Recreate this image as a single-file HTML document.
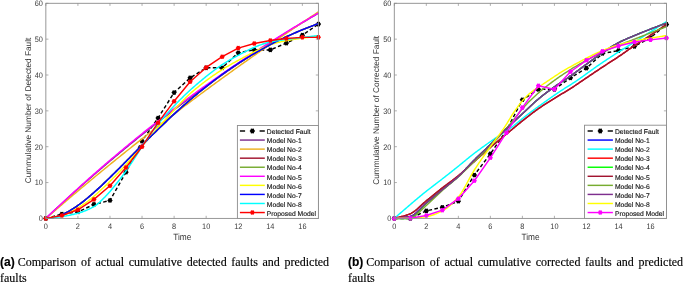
<!DOCTYPE html>
<html><head><meta charset="utf-8"><style>
html,body{margin:0;padding:0;background:#fff;}
body{width:685px;height:282px;overflow:hidden;position:relative;}
svg{position:absolute;left:0;top:0;will-change:transform;}
text{font-family:"Liberation Sans",sans-serif;text-rendering:geometricPrecision;}
.tk{font-size:7.35px;fill:#3a3a3a;}
.lb{font-size:8.3px;fill:#333;}
.yl{font-size:8.3px;fill:#333;}
.lg{font-size:6.75px;fill:#111;stroke:#111;stroke-width:0.12px;}
.cap{position:absolute;will-change:transform;font-family:"Liberation Serif",serif;font-size:12px;line-height:15px;color:#000;white-space:nowrap;-webkit-text-stroke:0.15px #000;}
.cap b{font-family:"Liberation Sans",sans-serif;font-weight:bold;}
</style></head><body>
<svg width="685" height="282" viewBox="0 0 685 282">
<path d="M45.85 218.40 L61.88 214.10 L77.91 211.95 L93.95 204.42 L109.98 200.47 L126.01 172.15 L142.04 140.96 L158.08 118.02 L174.11 92.57 L190.14 77.87 L206.17 67.83 L222.21 67.83 L238.24 52.77 L254.27 49.91 L270.30 49.91 L286.34 43.09 L302.37 35.21 L318.40 24.09" fill="none" stroke="#000" stroke-width="1.45" stroke-dasharray="3.6,2.4"/>
<polygon points="48.55,218.40 47.67,217.35 47.20,216.06 45.85,216.29 44.50,216.06 44.03,217.35 43.15,218.40 44.03,219.45 44.50,220.74 45.85,220.51 47.20,220.74 47.67,219.45" fill="#000"/>
<polygon points="64.58,214.10 63.71,213.05 63.23,211.76 61.88,211.99 60.53,211.76 60.06,213.05 59.18,214.10 60.06,215.15 60.53,216.44 61.88,216.20 63.23,216.44 63.71,215.15" fill="#000"/>
<polygon points="80.61,211.95 79.74,210.89 79.26,209.61 77.91,209.84 76.56,209.61 76.09,210.89 75.21,211.95 76.09,213.00 76.56,214.29 77.91,214.05 79.26,214.29 79.74,213.00" fill="#000"/>
<polygon points="96.65,204.42 95.77,203.37 95.30,202.08 93.95,202.31 92.60,202.08 92.12,203.37 91.25,204.42 92.12,205.47 92.60,206.76 93.95,206.52 95.30,206.76 95.77,205.47" fill="#000"/>
<polygon points="112.68,200.47 111.80,199.42 111.33,198.14 109.98,198.37 108.63,198.14 108.16,199.42 107.28,200.47 108.16,201.53 108.63,202.81 109.98,202.58 111.33,202.81 111.80,201.53" fill="#000"/>
<polygon points="128.71,172.15 127.84,171.10 127.36,169.82 126.01,170.05 124.66,169.82 124.19,171.10 123.31,172.15 124.19,173.21 124.66,174.49 126.01,174.26 127.36,174.49 127.84,173.21" fill="#000"/>
<polygon points="144.74,140.96 143.87,139.91 143.39,138.63 142.04,138.86 140.69,138.63 140.22,139.91 139.34,140.96 140.22,142.02 140.69,143.30 142.04,143.07 143.39,143.30 143.87,142.02" fill="#000"/>
<polygon points="160.78,118.02 159.90,116.97 159.43,115.68 158.08,115.91 156.73,115.68 156.25,116.97 155.38,118.02 156.25,119.07 156.73,120.36 158.08,120.13 159.43,120.36 159.90,119.07" fill="#000"/>
<polygon points="176.81,92.57 175.93,91.51 175.46,90.23 174.11,90.46 172.76,90.23 172.28,91.51 171.41,92.57 172.28,93.62 172.76,94.90 174.11,94.67 175.46,94.90 175.93,93.62" fill="#000"/>
<polygon points="192.84,77.87 191.97,76.81 191.49,75.53 190.14,75.76 188.79,75.53 188.32,76.81 187.44,77.87 188.32,78.92 188.79,80.21 190.14,79.97 191.49,80.21 191.97,78.92" fill="#000"/>
<polygon points="208.87,67.83 208.00,66.78 207.52,65.49 206.17,65.72 204.82,65.49 204.35,66.78 203.47,67.83 204.35,68.88 204.82,70.17 206.17,69.94 207.52,70.17 208.00,68.88" fill="#000"/>
<polygon points="224.91,67.83 224.03,66.78 223.56,65.49 222.21,65.72 220.86,65.49 220.38,66.78 219.51,67.83 220.38,68.88 220.86,70.17 222.21,69.94 223.56,70.17 224.03,68.88" fill="#000"/>
<polygon points="240.94,52.77 240.06,51.72 239.59,50.43 238.24,50.67 236.89,50.43 236.41,51.72 235.54,52.77 236.41,53.83 236.89,55.11 238.24,54.88 239.59,55.11 240.06,53.83" fill="#000"/>
<polygon points="256.97,49.91 256.09,48.85 255.62,47.57 254.27,47.80 252.92,47.57 252.45,48.85 251.57,49.91 252.45,50.96 252.92,52.24 254.27,52.01 255.62,52.24 256.09,50.96" fill="#000"/>
<polygon points="273.00,49.91 272.13,48.85 271.65,47.57 270.30,47.80 268.95,47.57 268.48,48.85 267.60,49.91 268.48,50.96 268.95,52.24 270.30,52.01 271.65,52.24 272.13,50.96" fill="#000"/>
<polygon points="289.04,43.09 288.16,42.04 287.69,40.76 286.34,40.99 284.99,40.76 284.51,42.04 283.64,43.09 284.51,44.15 284.99,45.43 286.34,45.20 287.69,45.43 288.16,44.15" fill="#000"/>
<polygon points="305.07,35.21 304.19,34.15 303.72,32.87 302.37,33.10 301.02,32.87 300.54,34.15 299.67,35.21 300.54,36.26 301.02,37.54 302.37,37.31 303.72,37.54 304.19,36.26" fill="#000"/>
<polygon points="321.10,24.09 320.22,23.04 319.75,21.75 318.40,21.99 317.05,21.75 316.58,23.04 315.70,24.09 316.58,25.15 317.05,26.43 318.40,26.20 319.75,26.43 320.22,25.15" fill="#000"/>
<path d="M45.85 218.40 L47.45 216.89 L49.06 215.38 L50.66 213.87 L52.26 212.37 L53.87 210.88 L55.47 209.39 L57.07 207.90 L58.68 206.41 L60.28 204.94 L61.88 203.46 L63.49 201.99 L65.09 200.52 L66.69 199.06 L68.30 197.60 L69.90 196.14 L71.50 194.69 L73.10 193.25 L74.71 191.80 L76.31 190.36 L77.91 188.93 L79.52 187.50 L81.12 186.07 L82.72 184.65 L84.33 183.23 L85.93 181.81 L87.53 180.40 L89.14 179.00 L90.74 177.59 L92.34 176.19 L93.95 174.80 L95.55 173.41 L97.15 172.02 L98.76 170.63 L100.36 169.25 L101.96 167.88 L103.57 166.50 L105.17 165.14 L106.77 163.77 L108.38 162.41 L109.98 161.05 L111.58 159.70 L113.19 158.35 L114.79 157.00 L116.39 155.66 L118.00 154.32 L119.60 152.99 L121.20 151.66 L122.81 150.33 L124.41 149.00 L126.01 147.68 L127.61 146.37 L129.22 145.06 L130.82 143.75 L132.42 142.44 L134.03 141.14 L135.63 139.84 L137.23 138.55 L138.84 137.25 L140.44 135.97 L142.04 134.68 L143.65 133.40 L145.25 132.13 L146.85 130.85 L148.46 129.58 L150.06 128.32 L151.66 127.05 L153.27 125.80 L154.87 124.54 L156.47 123.29 L158.08 122.04 L159.68 120.79 L161.28 119.55 L162.89 118.31 L164.49 117.08 L166.09 115.85 L167.70 114.62 L169.30 113.39 L170.90 112.17 L172.51 110.95 L174.11 109.74 L175.71 108.53 L177.32 107.32 L178.92 106.12 L180.52 104.92 L182.12 103.72 L183.73 102.52 L185.33 101.33 L186.93 100.14 L188.54 98.96 L190.14 97.78 L191.74 96.60 L193.35 95.43 L194.95 94.26 L196.55 93.09 L198.16 91.92 L199.76 90.76 L201.36 89.60 L202.97 88.45 L204.57 87.29 L206.17 86.15 L207.78 85.00 L209.38 83.86 L210.98 82.72 L212.59 81.58 L214.19 80.45 L215.79 79.32 L217.40 78.19 L219.00 77.07 L220.60 75.95 L222.21 74.83 L223.81 73.72 L225.41 72.61 L227.02 71.50 L228.62 70.39 L230.22 69.29 L231.83 68.19 L233.43 67.10 L235.03 66.00 L236.63 64.91 L238.24 63.83 L239.84 62.74 L241.44 61.66 L243.05 60.59 L244.65 59.51 L246.25 58.44 L247.86 57.37 L249.46 56.31 L251.06 55.24 L252.67 54.18 L254.27 53.13 L255.87 52.07 L257.48 51.02 L259.08 49.97 L260.68 48.93 L262.29 47.89 L263.89 46.85 L265.49 45.81 L267.10 44.78 L268.70 43.75 L270.30 42.72 L271.91 41.69 L273.51 40.67 L275.11 39.65 L276.72 38.63 L278.32 37.62 L279.92 36.61 L281.53 35.60 L283.13 34.60 L284.73 33.59 L286.34 32.59 L287.94 31.60 L289.54 30.60 L291.14 29.61 L292.75 28.62 L294.35 27.64 L295.95 26.65 L297.56 25.67 L299.16 24.70 L300.76 23.72 L302.37 22.75 L303.97 21.78 L305.57 20.81 L307.18 19.85 L308.78 18.89 L310.38 17.93 L311.99 16.97 L313.59 16.02 L315.19 15.07 L316.80 14.12 L318.40 13.17" fill="none" stroke="#7E2F8E" stroke-width="1.45" stroke-linejoin="round"/>
<path d="M45.85 218.40 L47.45 217.01 L49.06 215.62 L50.66 214.23 L52.26 212.85 L53.87 211.46 L55.47 210.08 L57.07 208.70 L58.68 207.33 L60.28 205.96 L61.88 204.58 L63.49 203.21 L65.09 201.85 L66.69 200.48 L68.30 199.12 L69.90 197.76 L71.50 196.40 L73.10 195.05 L74.71 193.69 L76.31 192.34 L77.91 190.99 L79.52 189.65 L81.12 188.30 L82.72 186.96 L84.33 185.62 L85.93 184.28 L87.53 182.95 L89.14 181.61 L90.74 180.28 L92.34 178.95 L93.95 177.63 L95.55 176.30 L97.15 174.98 L98.76 173.66 L100.36 172.34 L101.96 171.02 L103.57 169.71 L105.17 168.40 L106.77 167.09 L108.38 165.78 L109.98 164.48 L111.58 163.17 L113.19 161.87 L114.79 160.57 L116.39 159.28 L118.00 157.98 L119.60 156.69 L121.20 155.40 L122.81 154.11 L124.41 152.83 L126.01 151.54 L127.61 150.26 L129.22 148.98 L130.82 147.70 L132.42 146.43 L134.03 145.16 L135.63 143.89 L137.23 142.62 L138.84 141.35 L140.44 140.08 L142.04 138.82 L143.65 137.56 L145.25 136.30 L146.85 135.05 L148.46 133.79 L150.06 132.54 L151.66 131.29 L153.27 130.04 L154.87 128.79 L156.47 127.55 L158.08 126.31 L159.68 125.07 L161.28 123.83 L162.89 122.59 L164.49 121.36 L166.09 120.13 L167.70 118.90 L169.30 117.67 L170.90 116.44 L172.51 115.22 L174.11 114.00 L175.71 112.78 L177.32 111.56 L178.92 110.35 L180.52 109.13 L182.12 107.92 L183.73 106.71 L185.33 105.50 L186.93 104.30 L188.54 103.09 L190.14 101.89 L191.74 100.69 L193.35 99.49 L194.95 98.30 L196.55 97.10 L198.16 95.91 L199.76 94.72 L201.36 93.53 L202.97 92.35 L204.57 91.16 L206.17 89.98 L207.78 88.80 L209.38 87.62 L210.98 86.45 L212.59 85.27 L214.19 84.10 L215.79 82.93 L217.40 81.76 L219.00 80.59 L220.60 79.43 L222.21 78.27 L223.81 77.11 L225.41 75.95 L227.02 74.79 L228.62 73.64 L230.22 72.48 L231.83 71.33 L233.43 70.18 L235.03 69.03 L236.63 67.89 L238.24 66.74 L239.84 65.60 L241.44 64.46 L243.05 63.32 L244.65 62.19 L246.25 61.05 L247.86 59.92 L249.46 58.79 L251.06 57.66 L252.67 56.53 L254.27 55.41 L255.87 54.29 L257.48 53.17 L259.08 52.05 L260.68 50.93 L262.29 49.81 L263.89 48.70 L265.49 47.59 L267.10 46.48 L268.70 45.37 L270.30 44.26 L271.91 43.16 L273.51 42.05 L275.11 40.95 L276.72 39.85 L278.32 38.76 L279.92 37.66 L281.53 36.57 L283.13 35.47 L284.73 34.38 L286.34 33.29 L287.94 32.21 L289.54 31.12 L291.14 30.04 L292.75 28.96 L294.35 27.88 L295.95 26.80 L297.56 25.73 L299.16 24.65 L300.76 23.58 L302.37 22.51 L303.97 21.44 L305.57 20.37 L307.18 19.31 L308.78 18.24 L310.38 17.18 L311.99 16.12 L313.59 15.06 L315.19 14.01 L316.80 12.95 L318.40 11.90" fill="none" stroke="#EDB120" stroke-width="1.45" stroke-linejoin="round"/>
<path d="M45.85 218.40 L47.45 218.36 L49.06 218.24 L50.66 218.04 L52.26 217.77 L53.87 217.42 L55.47 217.01 L57.07 216.53 L58.68 215.99 L60.28 215.39 L61.88 214.73 L63.49 214.01 L65.09 213.24 L66.69 212.42 L68.30 211.55 L69.90 210.63 L71.50 209.67 L73.10 208.67 L74.71 207.62 L76.31 206.53 L77.91 205.41 L79.52 204.25 L81.12 203.06 L82.72 201.83 L84.33 200.58 L85.93 199.29 L87.53 197.98 L89.14 196.64 L90.74 195.28 L92.34 193.89 L93.95 192.48 L95.55 191.06 L97.15 189.61 L98.76 188.14 L100.36 186.66 L101.96 185.16 L103.57 183.65 L105.17 182.12 L106.77 180.58 L108.38 179.03 L109.98 177.46 L111.58 175.89 L113.19 174.31 L114.79 172.72 L116.39 171.13 L118.00 169.52 L119.60 167.92 L121.20 166.30 L122.81 164.69 L124.41 163.07 L126.01 161.44 L127.61 159.82 L129.22 158.19 L130.82 156.57 L132.42 154.94 L134.03 153.32 L135.63 151.69 L137.23 150.07 L138.84 148.45 L140.44 146.83 L142.04 145.21 L143.65 143.60 L145.25 141.99 L146.85 140.39 L148.46 138.79 L150.06 137.19 L151.66 135.60 L153.27 134.02 L154.87 132.44 L156.47 130.87 L158.08 129.31 L159.68 127.75 L161.28 126.20 L162.89 124.66 L164.49 123.12 L166.09 121.60 L167.70 120.08 L169.30 118.57 L170.90 117.07 L172.51 115.58 L174.11 114.10 L175.71 112.62 L177.32 111.16 L178.92 109.71 L180.52 108.26 L182.12 106.83 L183.73 105.40 L185.33 103.99 L186.93 102.59 L188.54 101.19 L190.14 99.81 L191.74 98.44 L193.35 97.07 L194.95 95.72 L196.55 94.38 L198.16 93.05 L199.76 91.74 L201.36 90.43 L202.97 89.13 L204.57 87.85 L206.17 86.57 L207.78 85.31 L209.38 84.06 L210.98 82.82 L212.59 81.59 L214.19 80.37 L215.79 79.17 L217.40 77.97 L219.00 76.79 L220.60 75.61 L222.21 74.45 L223.81 73.30 L225.41 72.16 L227.02 71.03 L228.62 69.92 L230.22 68.81 L231.83 67.72 L233.43 66.63 L235.03 65.56 L236.63 64.50 L238.24 63.45 L239.84 62.41 L241.44 61.38 L243.05 60.36 L244.65 59.36 L246.25 58.36 L247.86 57.37 L249.46 56.40 L251.06 55.43 L252.67 54.48 L254.27 53.54 L255.87 52.60 L257.48 51.68 L259.08 50.77 L260.68 49.87 L262.29 48.98 L263.89 48.09 L265.49 47.22 L267.10 46.36 L268.70 45.51 L270.30 44.67 L271.91 43.84 L273.51 43.01 L275.11 42.20 L276.72 41.40 L278.32 40.60 L279.92 39.82 L281.53 39.04 L283.13 38.28 L284.73 37.52 L286.34 36.77 L287.94 36.03 L289.54 35.30 L291.14 34.58 L292.75 33.87 L294.35 33.17 L295.95 32.47 L297.56 31.79 L299.16 31.11 L300.76 30.44 L302.37 29.78 L303.97 29.13 L305.57 28.48 L307.18 27.84 L308.78 27.22 L310.38 26.60 L311.99 25.98 L313.59 25.38 L315.19 24.78 L316.80 24.19 L318.40 23.61" fill="none" stroke="#A2142F" stroke-width="1.45" stroke-linejoin="round"/>
<path d="M45.85 218.40 L47.45 218.36 L49.06 218.24 L50.66 218.04 L52.26 217.77 L53.87 217.42 L55.47 217.01 L57.07 216.53 L58.68 215.99 L60.28 215.39 L61.88 214.73 L63.49 214.01 L65.09 213.24 L66.69 212.42 L68.30 211.55 L69.90 210.63 L71.50 209.67 L73.10 208.67 L74.71 207.62 L76.31 206.53 L77.91 205.41 L79.52 204.25 L81.12 203.06 L82.72 201.83 L84.33 200.58 L85.93 199.29 L87.53 197.98 L89.14 196.64 L90.74 195.28 L92.34 193.89 L93.95 192.48 L95.55 191.06 L97.15 189.61 L98.76 188.14 L100.36 186.66 L101.96 185.16 L103.57 183.65 L105.17 182.12 L106.77 180.58 L108.38 179.03 L109.98 177.46 L111.58 175.89 L113.19 174.31 L114.79 172.72 L116.39 171.13 L118.00 169.52 L119.60 167.92 L121.20 166.30 L122.81 164.69 L124.41 163.07 L126.01 161.44 L127.61 159.82 L129.22 158.19 L130.82 156.57 L132.42 154.94 L134.03 153.32 L135.63 151.69 L137.23 150.07 L138.84 148.45 L140.44 146.83 L142.04 145.21 L143.65 143.60 L145.25 141.99 L146.85 140.39 L148.46 138.79 L150.06 137.19 L151.66 135.60 L153.27 134.02 L154.87 132.44 L156.47 130.87 L158.08 129.31 L159.68 127.75 L161.28 126.20 L162.89 124.66 L164.49 123.12 L166.09 121.60 L167.70 120.08 L169.30 118.57 L170.90 117.07 L172.51 115.58 L174.11 114.10 L175.71 112.62 L177.32 111.16 L178.92 109.71 L180.52 108.26 L182.12 106.83 L183.73 105.40 L185.33 103.99 L186.93 102.59 L188.54 101.19 L190.14 99.81 L191.74 98.44 L193.35 97.07 L194.95 95.72 L196.55 94.38 L198.16 93.05 L199.76 91.74 L201.36 90.43 L202.97 89.13 L204.57 87.85 L206.17 86.57 L207.78 85.31 L209.38 84.06 L210.98 82.82 L212.59 81.59 L214.19 80.37 L215.79 79.17 L217.40 77.97 L219.00 76.79 L220.60 75.61 L222.21 74.45 L223.81 73.30 L225.41 72.16 L227.02 71.03 L228.62 69.92 L230.22 68.81 L231.83 67.72 L233.43 66.63 L235.03 65.56 L236.63 64.50 L238.24 63.45 L239.84 62.41 L241.44 61.38 L243.05 60.36 L244.65 59.36 L246.25 58.36 L247.86 57.37 L249.46 56.40 L251.06 55.43 L252.67 54.48 L254.27 53.54 L255.87 52.60 L257.48 51.68 L259.08 50.77 L260.68 49.87 L262.29 48.98 L263.89 48.09 L265.49 47.22 L267.10 46.36 L268.70 45.51 L270.30 44.67 L271.91 43.84 L273.51 43.01 L275.11 42.20 L276.72 41.40 L278.32 40.60 L279.92 39.82 L281.53 39.04 L283.13 38.28 L284.73 37.52 L286.34 36.77 L287.94 36.03 L289.54 35.30 L291.14 34.58 L292.75 33.87 L294.35 33.17 L295.95 32.47 L297.56 31.79 L299.16 31.11 L300.76 30.44 L302.37 29.78 L303.97 29.13 L305.57 28.48 L307.18 27.84 L308.78 27.22 L310.38 26.60 L311.99 25.98 L313.59 25.38 L315.19 24.78 L316.80 24.19 L318.40 23.61" fill="none" stroke="#77AC30" stroke-width="1.45" stroke-linejoin="round"/>
<path d="M45.85 218.40 L47.45 216.86 L49.06 215.32 L50.66 213.79 L52.26 212.27 L53.87 210.75 L55.47 209.23 L57.07 207.72 L58.68 206.21 L60.28 204.71 L61.88 203.21 L63.49 201.71 L65.09 200.22 L66.69 198.74 L68.30 197.26 L69.90 195.78 L71.50 194.31 L73.10 192.84 L74.71 191.38 L76.31 189.92 L77.91 188.46 L79.52 187.01 L81.12 185.57 L82.72 184.12 L84.33 182.69 L85.93 181.25 L87.53 179.83 L89.14 178.40 L90.74 176.98 L92.34 175.56 L93.95 174.15 L95.55 172.75 L97.15 171.34 L98.76 169.94 L100.36 168.55 L101.96 167.16 L103.57 165.77 L105.17 164.39 L106.77 163.01 L108.38 161.64 L109.98 160.27 L111.58 158.90 L113.19 157.54 L114.79 156.18 L116.39 154.83 L118.00 153.48 L119.60 152.13 L121.20 150.79 L122.81 149.45 L124.41 148.12 L126.01 146.79 L127.61 145.47 L129.22 144.14 L130.82 142.83 L132.42 141.51 L134.03 140.20 L135.63 138.90 L137.23 137.60 L138.84 136.30 L140.44 135.00 L142.04 133.71 L143.65 132.43 L145.25 131.15 L146.85 129.87 L148.46 128.59 L150.06 127.32 L151.66 126.05 L153.27 124.79 L154.87 123.53 L156.47 122.28 L158.08 121.02 L159.68 119.78 L161.28 118.53 L162.89 117.29 L164.49 116.05 L166.09 114.82 L167.70 113.59 L169.30 112.36 L170.90 111.14 L172.51 109.92 L174.11 108.71 L175.71 107.50 L177.32 106.29 L178.92 105.08 L180.52 103.88 L182.12 102.69 L183.73 101.49 L185.33 100.30 L186.93 99.12 L188.54 97.94 L190.14 96.76 L191.74 95.58 L193.35 94.41 L194.95 93.24 L196.55 92.07 L198.16 90.91 L199.76 89.76 L201.36 88.60 L202.97 87.45 L204.57 86.30 L206.17 85.16 L207.78 84.02 L209.38 82.88 L210.98 81.75 L212.59 80.61 L214.19 79.49 L215.79 78.36 L217.40 77.24 L219.00 76.13 L220.60 75.01 L222.21 73.90 L223.81 72.79 L225.41 71.69 L227.02 70.59 L228.62 69.49 L230.22 68.40 L231.83 67.31 L233.43 66.22 L235.03 65.14 L236.63 64.06 L238.24 62.98 L239.84 61.90 L241.44 60.83 L243.05 59.77 L244.65 58.70 L246.25 57.64 L247.86 56.58 L249.46 55.53 L251.06 54.47 L252.67 53.42 L254.27 52.38 L255.87 51.34 L257.48 50.30 L259.08 49.26 L260.68 48.23 L262.29 47.20 L263.89 46.17 L265.49 45.15 L267.10 44.12 L268.70 43.11 L270.30 42.09 L271.91 41.08 L273.51 40.07 L275.11 39.07 L276.72 38.06 L278.32 37.06 L279.92 36.07 L281.53 35.07 L283.13 34.08 L284.73 33.09 L286.34 32.11 L287.94 31.13 L289.54 30.15 L291.14 29.17 L292.75 28.20 L294.35 27.23 L295.95 26.26 L297.56 25.30 L299.16 24.34 L300.76 23.38 L302.37 22.42 L303.97 21.47 L305.57 20.52 L307.18 19.57 L308.78 18.63 L310.38 17.68 L311.99 16.75 L313.59 15.81 L315.19 14.88 L316.80 13.95 L318.40 13.02" fill="none" stroke="#FF00FF" stroke-width="1.45" stroke-linejoin="round"/>
<path d="M45.85 218.40 L46.65 218.26 L47.45 218.12 L48.25 217.99 L49.06 217.87 L49.86 217.74 L50.66 217.62 L51.46 217.50 L52.26 217.38 L53.06 217.25 L53.87 217.13 L54.67 217.00 L55.47 216.87 L56.27 216.73 L57.07 216.58 L57.87 216.43 L58.68 216.27 L59.48 216.10 L60.28 215.92 L61.08 215.73 L61.88 215.53 L62.69 215.31 L63.50 215.07 L64.30 214.80 L65.11 214.51 L65.92 214.20 L66.73 213.88 L67.53 213.53 L68.34 213.17 L69.15 212.79 L69.96 212.39 L70.76 211.98 L71.57 211.56 L72.38 211.12 L73.19 210.67 L73.99 210.22 L74.80 209.75 L75.61 209.27 L76.41 208.78 L77.22 208.29 L78.03 207.79 L78.84 207.29 L79.64 206.78 L80.45 206.27 L81.26 205.76 L82.07 205.24 L82.87 204.73 L83.68 204.21 L84.49 203.70 L85.42 203.09 L86.35 202.44 L87.28 201.75 L88.21 201.03 L89.14 200.30 L89.94 199.65 L90.74 199.00 L91.54 198.33 L92.34 197.66 L93.15 196.99 L93.95 196.30 L94.75 195.61 L95.55 194.91 L96.35 194.20 L97.15 193.49 L97.96 192.77 L98.76 192.04 L99.56 191.31 L100.36 190.57 L101.16 189.83 L101.96 189.08 L102.76 188.32 L103.57 187.56 L104.37 186.80 L105.17 186.03 L105.97 185.25 L106.77 184.47 L107.57 183.69 L108.38 182.90 L109.18 182.11 L109.98 181.31 L110.78 180.51 L111.58 179.71 L112.38 178.91 L113.19 178.10 L113.99 177.29 L114.79 176.47 L115.59 175.66 L116.39 174.84 L117.19 174.02 L118.00 173.20 L118.80 172.37 L119.60 171.55 L120.40 170.72 L121.22 169.87 L122.04 169.01 L122.86 168.14 L123.68 167.26 L124.50 166.38 L125.31 165.49 L126.13 164.59 L126.95 163.68 L127.77 162.76 L128.59 161.84 L129.41 160.91 L130.23 159.98 L131.05 159.04 L131.87 158.10 L132.69 157.15 L133.51 156.20 L134.32 155.25 L135.14 154.29 L135.96 153.33 L136.78 152.37 L137.60 151.40 L138.42 150.43 L139.24 149.47 L140.06 148.50 L140.88 147.53 L141.70 146.56 L142.51 145.58 L143.33 144.62 L144.15 143.65 L144.97 142.68 L145.79 141.71 L146.61 140.75 L147.43 139.79 L148.25 138.83 L149.07 137.88 L149.89 136.93 L150.71 135.98 L151.52 135.04 L152.34 134.10 L153.16 133.16 L153.98 132.24 L154.80 131.32 L155.62 130.40 L156.44 129.49 L157.26 128.59 L158.08 127.70 L158.88 126.82 L159.69 125.94 L160.49 125.06 L161.30 124.17 L162.10 123.29 L162.91 122.40 L163.71 121.51 L164.52 120.61 L165.32 119.72 L166.13 118.82 L166.93 117.93 L167.74 117.03 L168.54 116.14 L169.35 115.25 L170.15 114.36 L170.96 113.47 L171.76 112.58 L172.57 111.69 L173.37 110.81 L174.18 109.93 L174.98 109.05 L175.79 108.18 L176.59 107.31 L177.40 106.45 L178.20 105.59 L179.01 104.73 L179.81 103.89 L180.62 103.04 L181.42 102.21 L182.23 101.38 L183.03 100.56 L183.84 99.74 L184.64 98.94 L185.45 98.14 L186.26 97.35 L187.06 96.57 L187.87 95.80 L188.67 95.04 L189.48 94.29 L190.28 93.55 L191.09 92.82 L191.89 92.10 L192.70 91.39 L193.50 90.69 L194.31 90.01 L195.11 89.34 L195.93 88.67 L196.74 88.01 L197.56 87.35 L198.37 86.69 L199.18 86.04 L200.00 85.39 L200.81 84.75 L201.63 84.12 L202.44 83.49 L203.26 82.86 L204.07 82.24 L204.89 81.62 L205.70 81.01 L206.52 80.40 L207.33 79.80 L208.15 79.20 L208.96 78.61 L209.78 78.02 L210.59 77.43 L211.41 76.86 L212.22 76.28 L213.03 75.71 L213.85 75.15 L214.66 74.59 L215.48 74.03 L216.29 73.48 L217.11 72.93 L217.92 72.39 L218.74 71.86 L219.55 71.32 L220.37 70.80 L221.18 70.27 L222.00 69.75 L222.81 69.24 L223.63 68.73 L224.44 68.23 L225.26 67.73 L226.07 67.23 L226.88 66.74 L227.70 66.26 L228.51 65.78 L229.33 65.30 L230.14 64.83 L230.96 64.36 L231.77 63.90 L232.59 63.44 L233.40 62.99 L234.22 62.54 L235.03 62.09 L235.85 61.65 L236.66 61.21 L237.48 60.76 L238.30 60.32 L239.11 59.87 L239.93 59.43 L240.75 58.99 L241.56 58.54 L242.38 58.10 L243.19 57.66 L244.01 57.22 L244.83 56.78 L245.64 56.34 L246.46 55.91 L247.27 55.48 L248.09 55.05 L248.91 54.62 L249.72 54.19 L250.54 53.77 L251.36 53.35 L252.17 52.93 L252.99 52.52 L253.80 52.11 L254.62 51.70 L255.44 51.30 L256.25 50.90 L257.07 50.50 L257.89 50.11 L258.70 49.73 L259.52 49.35 L260.33 48.97 L261.15 48.60 L261.97 48.24 L262.78 47.88 L263.60 47.53 L264.41 47.18 L265.23 46.84 L266.05 46.51 L266.86 46.18 L267.68 45.86 L268.50 45.55 L269.31 45.24 L270.13 44.95 L270.94 44.65 L271.76 44.37 L272.58 44.10 L273.39 43.83 L274.21 43.57 L275.03 43.32 L275.84 43.08 L276.66 42.85 L277.47 42.63 L278.29 42.41 L279.11 42.21 L279.92 42.02 L280.72 41.84 L281.53 41.66 L282.33 41.48 L283.13 41.31 L283.93 41.15 L284.73 40.99 L285.53 40.83 L286.34 40.68 L287.14 40.53 L287.94 40.38 L288.74 40.24 L289.54 40.10 L290.34 39.96 L291.14 39.83 L291.95 39.70 L292.75 39.57 L293.55 39.45 L294.35 39.32 L295.15 39.20 L295.95 39.08 L296.76 38.96 L297.56 38.85 L298.36 38.73 L299.16 38.62 L299.96 38.51 L300.76 38.40 L301.57 38.29 L302.37 38.18 L303.17 38.07 L303.97 37.96 L304.77 37.86 L305.57 37.75 L306.38 37.64 L307.18 37.53 L307.98 37.42 L308.78 37.32 L309.58 37.21 L310.38 37.10 L311.19 36.99 L311.99 36.87 L312.79 36.76 L313.59 36.65 L314.39 36.53 L315.19 36.41 L316.00 36.29 L316.80 36.17 L317.60 36.05 L318.40 35.92" fill="none" stroke="#FFFF00" stroke-width="1.45" stroke-linejoin="round"/>
<path d="M45.85 218.40 L47.45 218.36 L49.06 218.24 L50.66 218.04 L52.26 217.77 L53.87 217.42 L55.47 217.01 L57.07 216.53 L58.68 215.99 L60.28 215.39 L61.88 214.73 L63.49 214.01 L65.09 213.24 L66.69 212.42 L68.30 211.55 L69.90 210.63 L71.50 209.67 L73.10 208.67 L74.71 207.62 L76.31 206.53 L77.91 205.41 L79.52 204.25 L81.12 203.06 L82.72 201.83 L84.33 200.58 L85.93 199.29 L87.53 197.98 L89.14 196.64 L90.74 195.28 L92.34 193.89 L93.95 192.48 L95.55 191.06 L97.15 189.61 L98.76 188.14 L100.36 186.66 L101.96 185.16 L103.57 183.65 L105.17 182.12 L106.77 180.58 L108.38 179.03 L109.98 177.46 L111.58 175.89 L113.19 174.31 L114.79 172.72 L116.39 171.13 L118.00 169.52 L119.60 167.92 L121.20 166.30 L122.81 164.69 L124.41 163.07 L126.01 161.44 L127.61 159.82 L129.22 158.19 L130.82 156.57 L132.42 154.94 L134.03 153.32 L135.63 151.69 L137.23 150.07 L138.84 148.45 L140.44 146.83 L142.04 145.21 L143.65 143.60 L145.25 141.99 L146.85 140.39 L148.46 138.79 L150.06 137.19 L151.66 135.60 L153.27 134.02 L154.87 132.44 L156.47 130.87 L158.08 129.31 L159.68 127.75 L161.28 126.20 L162.89 124.66 L164.49 123.12 L166.09 121.60 L167.70 120.08 L169.30 118.57 L170.90 117.07 L172.51 115.58 L174.11 114.10 L175.71 112.62 L177.32 111.16 L178.92 109.71 L180.52 108.26 L182.12 106.83 L183.73 105.40 L185.33 103.99 L186.93 102.59 L188.54 101.19 L190.14 99.81 L191.74 98.44 L193.35 97.07 L194.95 95.72 L196.55 94.38 L198.16 93.05 L199.76 91.74 L201.36 90.43 L202.97 89.13 L204.57 87.85 L206.17 86.57 L207.78 85.31 L209.38 84.06 L210.98 82.82 L212.59 81.59 L214.19 80.37 L215.79 79.17 L217.40 77.97 L219.00 76.79 L220.60 75.61 L222.21 74.45 L223.81 73.30 L225.41 72.16 L227.02 71.03 L228.62 69.92 L230.22 68.81 L231.83 67.72 L233.43 66.63 L235.03 65.56 L236.63 64.50 L238.24 63.45 L239.84 62.41 L241.44 61.38 L243.05 60.36 L244.65 59.36 L246.25 58.36 L247.86 57.37 L249.46 56.40 L251.06 55.43 L252.67 54.48 L254.27 53.54 L255.87 52.60 L257.48 51.68 L259.08 50.77 L260.68 49.87 L262.29 48.98 L263.89 48.09 L265.49 47.22 L267.10 46.36 L268.70 45.51 L270.30 44.67 L271.91 43.84 L273.51 43.01 L275.11 42.20 L276.72 41.40 L278.32 40.60 L279.92 39.82 L281.53 39.04 L283.13 38.28 L284.73 37.52 L286.34 36.77 L287.94 36.03 L289.54 35.30 L291.14 34.58 L292.75 33.87 L294.35 33.17 L295.95 32.47 L297.56 31.79 L299.16 31.11 L300.76 30.44 L302.37 29.78 L303.97 29.13 L305.57 28.48 L307.18 27.84 L308.78 27.22 L310.38 26.60 L311.99 25.98 L313.59 25.38 L315.19 24.78 L316.80 24.19 L318.40 23.61" fill="none" stroke="#0000FF" stroke-width="1.45" stroke-linejoin="round"/>
<path d="M45.85 218.40 L46.65 218.31 L47.45 218.23 L48.25 218.14 L49.06 218.06 L49.86 217.98 L50.66 217.90 L51.46 217.82 L52.26 217.74 L53.06 217.66 L53.87 217.57 L54.67 217.49 L55.47 217.40 L56.27 217.32 L57.07 217.23 L57.87 217.13 L58.68 217.04 L59.48 216.94 L60.28 216.83 L61.08 216.72 L61.88 216.61 L62.68 216.49 L63.49 216.36 L64.29 216.23 L65.09 216.10 L65.89 215.96 L66.69 215.81 L67.49 215.66 L68.30 215.50 L69.10 215.34 L69.90 215.17 L70.70 215.00 L71.50 214.82 L72.30 214.64 L73.10 214.45 L73.91 214.26 L74.71 214.06 L75.51 213.85 L76.31 213.64 L77.11 213.42 L77.91 213.20 L78.72 212.97 L79.52 212.73 L80.32 212.49 L81.12 212.23 L81.92 211.96 L82.72 211.69 L83.53 211.40 L84.33 211.10 L85.13 210.79 L85.93 210.47 L86.73 210.14 L87.53 209.80 L88.34 209.44 L89.14 209.07 L89.94 208.69 L90.74 208.29 L91.54 207.88 L92.34 207.46 L93.15 207.02 L93.95 206.57 L94.80 206.05 L95.65 205.47 L96.50 204.85 L97.35 204.17 L98.20 203.46 L99.05 202.71 L99.90 201.92 L100.75 201.12 L101.61 200.29 L102.46 199.45 L103.31 198.60 L104.16 197.74 L105.01 196.89 L105.82 196.07 L106.63 195.22 L107.44 194.36 L108.25 193.47 L109.06 192.57 L109.87 191.65 L110.68 190.71 L111.49 189.76 L112.30 188.79 L113.11 187.81 L113.92 186.82 L114.73 185.81 L115.54 184.80 L116.35 183.78 L117.16 182.76 L117.97 181.72 L118.78 180.69 L119.59 179.65 L120.40 178.61 L121.22 177.54 L122.04 176.46 L122.86 175.36 L123.68 174.24 L124.50 173.11 L125.31 171.96 L126.13 170.79 L126.95 169.62 L127.77 168.43 L128.59 167.23 L129.41 166.01 L130.23 164.79 L131.05 163.56 L131.87 162.33 L132.69 161.08 L133.51 159.83 L134.32 158.57 L135.14 157.31 L135.96 156.05 L136.78 154.78 L137.60 153.52 L138.42 152.25 L139.24 150.98 L140.06 149.72 L140.88 148.45 L141.70 147.19 L142.51 145.94 L143.33 144.69 L144.15 143.44 L144.97 142.21 L145.79 140.98 L146.61 139.76 L147.43 138.54 L148.25 137.34 L149.07 136.16 L149.89 134.98 L150.71 133.82 L151.52 132.67 L152.34 131.54 L153.16 130.42 L153.98 129.32 L154.80 128.24 L155.62 127.18 L156.44 126.14 L157.26 125.11 L158.08 124.11 L158.88 123.15 L159.69 122.18 L160.49 121.23 L161.30 120.28 L162.10 119.33 L162.91 118.39 L163.71 117.46 L164.52 116.53 L165.32 115.61 L166.13 114.70 L166.93 113.79 L167.74 112.88 L168.54 111.99 L169.35 111.10 L170.15 110.21 L170.96 109.33 L171.76 108.46 L172.57 107.59 L173.37 106.73 L174.18 105.87 L174.98 105.03 L175.79 104.18 L176.59 103.34 L177.40 102.51 L178.20 101.69 L179.01 100.87 L179.81 100.06 L180.62 99.25 L181.42 98.45 L182.23 97.65 L183.03 96.86 L183.84 96.08 L184.64 95.30 L185.45 94.53 L186.26 93.77 L187.06 93.01 L187.87 92.26 L188.67 91.51 L189.48 90.77 L190.28 90.03 L191.09 89.31 L191.89 88.58 L192.70 87.87 L193.50 87.16 L194.31 86.45 L195.11 85.75 L195.92 85.06 L196.73 84.36 L197.54 83.67 L198.35 82.98 L199.16 82.29 L199.97 81.61 L200.77 80.93 L201.58 80.25 L202.39 79.58 L203.20 78.91 L204.01 78.24 L204.82 77.58 L205.63 76.92 L206.44 76.27 L207.25 75.62 L208.06 74.98 L208.87 74.34 L209.67 73.70 L210.48 73.08 L211.29 72.45 L212.10 71.83 L212.91 71.22 L213.72 70.61 L214.53 70.01 L215.34 69.42 L216.15 68.83 L216.96 68.25 L217.77 67.67 L218.57 67.10 L219.38 66.54 L220.19 65.99 L221.00 65.44 L221.81 64.90 L222.62 64.37 L223.43 63.84 L224.24 63.32 L225.05 62.82 L225.86 62.32 L226.67 61.82 L227.47 61.34 L228.28 60.87 L229.09 60.40 L229.90 59.94 L230.71 59.49 L231.52 59.04 L232.33 58.59 L233.13 58.14 L233.94 57.69 L234.75 57.24 L235.56 56.80 L236.37 56.35 L237.17 55.91 L237.98 55.47 L238.79 55.03 L239.60 54.59 L240.41 54.16 L241.21 53.73 L242.02 53.30 L242.83 52.88 L243.64 52.46 L244.45 52.04 L245.25 51.63 L246.06 51.22 L246.87 50.82 L247.68 50.42 L248.49 50.02 L249.29 49.64 L250.10 49.25 L250.91 48.87 L251.72 48.50 L252.53 48.13 L253.33 47.77 L254.14 47.42 L254.95 47.07 L255.76 46.73 L256.57 46.40 L257.37 46.07 L258.18 45.75 L258.99 45.44 L259.80 45.14 L260.61 44.84 L261.41 44.56 L262.22 44.28 L263.03 44.01 L263.84 43.75 L264.65 43.50 L265.45 43.26 L266.26 43.03 L267.07 42.80 L267.88 42.59 L268.69 42.39 L269.49 42.20 L270.30 42.02 L271.10 41.85 L271.91 41.69 L272.71 41.53 L273.51 41.38 L274.31 41.24 L275.11 41.11 L275.91 40.98 L276.72 40.85 L277.52 40.73 L278.32 40.61 L279.12 40.49 L279.92 40.38 L280.72 40.27 L281.53 40.16 L282.33 40.05 L283.13 39.94 L283.93 39.84 L284.73 39.73 L285.53 39.62 L286.34 39.51 L287.14 39.40 L287.94 39.29 L288.74 39.18 L289.54 39.07 L290.34 38.96 L291.14 38.86 L291.95 38.75 L292.75 38.65 L293.55 38.55 L294.35 38.45 L295.15 38.35 L295.95 38.25 L296.76 38.15 L297.56 38.05 L298.36 37.95 L299.16 37.85 L299.96 37.76 L300.76 37.66 L301.57 37.57 L302.37 37.47 L303.17 37.38 L303.97 37.28 L304.77 37.19 L305.57 37.09 L306.38 37.00 L307.18 36.90 L307.98 36.81 L308.78 36.71 L309.58 36.62 L310.38 36.53 L311.19 36.43 L311.99 36.34 L312.79 36.24 L313.59 36.15 L314.39 36.05 L315.19 35.95 L316.00 35.86 L316.80 35.76 L317.60 35.66 L318.40 35.56" fill="none" stroke="#00FFFF" stroke-width="1.45" stroke-linejoin="round"/>
<path d="M45.85 218.40 L61.88 215.53 L77.91 209.80 L93.95 199.40 L109.98 185.78 L126.01 167.49 L142.04 146.70 L158.08 122.68 L174.11 101.17 L190.14 81.81 L206.17 67.47 L222.21 56.72 L238.24 48.11 L254.27 43.45 L270.30 40.58 L286.34 38.43 L302.37 37.36 L318.40 37.36" fill="none" stroke="#FF0000" stroke-width="1.45" stroke-linejoin="round"/>
<polygon points="48.45,218.40 47.61,217.39 47.15,216.15 45.85,216.37 44.55,216.15 44.09,217.39 43.25,218.40 44.09,219.41 44.55,220.65 45.85,220.43 47.15,220.65 47.61,219.41" fill="#FF0000"/>
<polygon points="64.48,215.53 63.64,214.52 63.18,213.28 61.88,213.50 60.58,213.28 60.13,214.52 59.28,215.53 60.13,216.55 60.58,217.78 61.88,217.56 63.18,217.78 63.64,216.55" fill="#FF0000"/>
<polygon points="80.51,209.80 79.67,208.78 79.21,207.54 77.91,207.77 76.61,207.54 76.16,208.78 75.31,209.80 76.16,210.81 76.61,212.05 77.91,211.82 79.21,212.05 79.67,210.81" fill="#FF0000"/>
<polygon points="96.55,199.40 95.70,198.39 95.25,197.15 93.95,197.37 92.65,197.15 92.19,198.39 91.35,199.40 92.19,200.41 92.65,201.65 93.95,201.43 95.25,201.65 95.70,200.41" fill="#FF0000"/>
<polygon points="112.58,185.78 111.74,184.76 111.28,183.52 109.98,183.75 108.68,183.52 108.22,184.76 107.38,185.78 108.22,186.79 108.68,188.03 109.98,187.80 111.28,188.03 111.74,186.79" fill="#FF0000"/>
<polygon points="128.61,167.49 127.77,166.48 127.31,165.24 126.01,165.47 124.71,165.24 124.26,166.48 123.41,167.49 124.26,168.51 124.71,169.74 126.01,169.52 127.31,169.74 127.77,168.51" fill="#FF0000"/>
<polygon points="144.64,146.70 143.80,145.69 143.34,144.45 142.04,144.67 140.74,144.45 140.29,145.69 139.44,146.70 140.29,147.71 140.74,148.95 142.04,148.73 143.34,148.95 143.80,147.71" fill="#FF0000"/>
<polygon points="160.68,122.68 159.83,121.67 159.38,120.43 158.08,120.65 156.78,120.43 156.32,121.67 155.48,122.68 156.32,123.69 156.78,124.93 158.08,124.71 159.38,124.93 159.83,123.69" fill="#FF0000"/>
<polygon points="176.71,101.17 175.87,100.16 175.41,98.92 174.11,99.14 172.81,98.92 172.35,100.16 171.51,101.17 172.35,102.18 172.81,103.42 174.11,103.20 175.41,103.42 175.87,102.18" fill="#FF0000"/>
<polygon points="192.74,81.81 191.90,80.80 191.44,79.56 190.14,79.78 188.84,79.56 188.38,80.80 187.54,81.81 188.38,82.83 188.84,84.06 190.14,83.84 191.44,84.06 191.90,82.83" fill="#FF0000"/>
<polygon points="208.77,67.47 207.93,66.46 207.47,65.22 206.17,65.44 204.87,65.22 204.42,66.46 203.57,67.47 204.42,68.49 204.87,69.72 206.17,69.50 207.47,69.72 207.93,68.49" fill="#FF0000"/>
<polygon points="224.81,56.72 223.96,55.70 223.51,54.46 222.21,54.69 220.91,54.46 220.45,55.70 219.61,56.72 220.45,57.73 220.91,58.97 222.21,58.74 223.51,58.97 223.96,57.73" fill="#FF0000"/>
<polygon points="240.84,48.11 239.99,47.10 239.54,45.86 238.24,46.08 236.94,45.86 236.48,47.10 235.64,48.11 236.48,49.13 236.94,50.36 238.24,50.14 239.54,50.36 239.99,49.13" fill="#FF0000"/>
<polygon points="256.87,43.45 256.03,42.44 255.57,41.20 254.27,41.42 252.97,41.20 252.51,42.44 251.67,43.45 252.51,44.47 252.97,45.70 254.27,45.48 255.57,45.70 256.03,44.47" fill="#FF0000"/>
<polygon points="272.90,40.58 272.06,39.57 271.60,38.33 270.30,38.56 269.00,38.33 268.55,39.57 267.70,40.58 268.55,41.60 269.00,42.84 270.30,42.61 271.60,42.84 272.06,41.60" fill="#FF0000"/>
<polygon points="288.94,38.43 288.09,37.42 287.64,36.18 286.34,36.40 285.04,36.18 284.58,37.42 283.74,38.43 284.58,39.45 285.04,40.68 286.34,40.46 287.64,40.68 288.09,39.45" fill="#FF0000"/>
<polygon points="304.97,37.36 304.12,36.34 303.67,35.11 302.37,35.33 301.07,35.11 300.61,36.34 299.77,37.36 300.61,38.37 301.07,39.61 302.37,39.39 303.67,39.61 304.12,38.37" fill="#FF0000"/>
<polygon points="321.00,37.36 320.16,36.34 319.70,35.11 318.40,35.33 317.10,35.11 316.64,36.34 315.80,37.36 316.64,38.37 317.10,39.61 318.40,39.39 319.70,39.61 320.16,38.37" fill="#FF0000"/>
<rect x="45.85" y="3.30" width="272.55" height="215.10" fill="none" stroke="#8c8c8c" stroke-width="0.9"/>
<line x1="45.85" y1="218.40" x2="45.85" y2="215.80" stroke="#8c8c8c" stroke-width="0.7"/>
<line x1="45.85" y1="3.30" x2="45.85" y2="5.90" stroke="#8c8c8c" stroke-width="0.7"/>
<text transform="translate(45.85,228.80) scale(1,1.08)" text-anchor="middle" class="tk">0</text>
<line x1="77.91" y1="218.40" x2="77.91" y2="215.80" stroke="#8c8c8c" stroke-width="0.7"/>
<line x1="77.91" y1="3.30" x2="77.91" y2="5.90" stroke="#8c8c8c" stroke-width="0.7"/>
<text transform="translate(77.91,228.80) scale(1,1.08)" text-anchor="middle" class="tk">2</text>
<line x1="109.98" y1="218.40" x2="109.98" y2="215.80" stroke="#8c8c8c" stroke-width="0.7"/>
<line x1="109.98" y1="3.30" x2="109.98" y2="5.90" stroke="#8c8c8c" stroke-width="0.7"/>
<text transform="translate(109.98,228.80) scale(1,1.08)" text-anchor="middle" class="tk">4</text>
<line x1="142.04" y1="218.40" x2="142.04" y2="215.80" stroke="#8c8c8c" stroke-width="0.7"/>
<line x1="142.04" y1="3.30" x2="142.04" y2="5.90" stroke="#8c8c8c" stroke-width="0.7"/>
<text transform="translate(142.04,228.80) scale(1,1.08)" text-anchor="middle" class="tk">6</text>
<line x1="174.11" y1="218.40" x2="174.11" y2="215.80" stroke="#8c8c8c" stroke-width="0.7"/>
<line x1="174.11" y1="3.30" x2="174.11" y2="5.90" stroke="#8c8c8c" stroke-width="0.7"/>
<text transform="translate(174.11,228.80) scale(1,1.08)" text-anchor="middle" class="tk">8</text>
<line x1="206.17" y1="218.40" x2="206.17" y2="215.80" stroke="#8c8c8c" stroke-width="0.7"/>
<line x1="206.17" y1="3.30" x2="206.17" y2="5.90" stroke="#8c8c8c" stroke-width="0.7"/>
<text transform="translate(206.17,228.80) scale(1,1.08)" text-anchor="middle" class="tk">10</text>
<line x1="238.24" y1="218.40" x2="238.24" y2="215.80" stroke="#8c8c8c" stroke-width="0.7"/>
<line x1="238.24" y1="3.30" x2="238.24" y2="5.90" stroke="#8c8c8c" stroke-width="0.7"/>
<text transform="translate(238.24,228.80) scale(1,1.08)" text-anchor="middle" class="tk">12</text>
<line x1="270.30" y1="218.40" x2="270.30" y2="215.80" stroke="#8c8c8c" stroke-width="0.7"/>
<line x1="270.30" y1="3.30" x2="270.30" y2="5.90" stroke="#8c8c8c" stroke-width="0.7"/>
<text transform="translate(270.30,228.80) scale(1,1.08)" text-anchor="middle" class="tk">14</text>
<line x1="302.37" y1="218.40" x2="302.37" y2="215.80" stroke="#8c8c8c" stroke-width="0.7"/>
<line x1="302.37" y1="3.30" x2="302.37" y2="5.90" stroke="#8c8c8c" stroke-width="0.7"/>
<text transform="translate(302.37,228.80) scale(1,1.08)" text-anchor="middle" class="tk">16</text>
<line x1="45.85" y1="218.40" x2="48.45" y2="218.40" stroke="#8c8c8c" stroke-width="0.7"/>
<line x1="318.40" y1="218.40" x2="315.80" y2="218.40" stroke="#8c8c8c" stroke-width="0.7"/>
<text transform="translate(42.95,221.30) scale(1,1.08)" text-anchor="end" class="tk">0</text>
<line x1="45.85" y1="182.55" x2="48.45" y2="182.55" stroke="#8c8c8c" stroke-width="0.7"/>
<line x1="318.40" y1="182.55" x2="315.80" y2="182.55" stroke="#8c8c8c" stroke-width="0.7"/>
<text transform="translate(42.95,185.45) scale(1,1.08)" text-anchor="end" class="tk">10</text>
<line x1="45.85" y1="146.70" x2="48.45" y2="146.70" stroke="#8c8c8c" stroke-width="0.7"/>
<line x1="318.40" y1="146.70" x2="315.80" y2="146.70" stroke="#8c8c8c" stroke-width="0.7"/>
<text transform="translate(42.95,149.60) scale(1,1.08)" text-anchor="end" class="tk">20</text>
<line x1="45.85" y1="110.85" x2="48.45" y2="110.85" stroke="#8c8c8c" stroke-width="0.7"/>
<line x1="318.40" y1="110.85" x2="315.80" y2="110.85" stroke="#8c8c8c" stroke-width="0.7"/>
<text transform="translate(42.95,113.75) scale(1,1.08)" text-anchor="end" class="tk">30</text>
<line x1="45.85" y1="75.00" x2="48.45" y2="75.00" stroke="#8c8c8c" stroke-width="0.7"/>
<line x1="318.40" y1="75.00" x2="315.80" y2="75.00" stroke="#8c8c8c" stroke-width="0.7"/>
<text transform="translate(42.95,77.90) scale(1,1.08)" text-anchor="end" class="tk">40</text>
<line x1="45.85" y1="39.15" x2="48.45" y2="39.15" stroke="#8c8c8c" stroke-width="0.7"/>
<line x1="318.40" y1="39.15" x2="315.80" y2="39.15" stroke="#8c8c8c" stroke-width="0.7"/>
<text transform="translate(42.95,42.05) scale(1,1.08)" text-anchor="end" class="tk">50</text>
<line x1="45.85" y1="3.30" x2="48.45" y2="3.30" stroke="#8c8c8c" stroke-width="0.7"/>
<line x1="318.40" y1="3.30" x2="315.80" y2="3.30" stroke="#8c8c8c" stroke-width="0.7"/>
<text transform="translate(42.95,6.20) scale(1,1.08)" text-anchor="end" class="tk">60</text>
<text transform="translate(182.22,239.60) scale(1,1.1)" text-anchor="middle" class="lb">Time</text>
<rect x="237.40" y="125.50" width="81.00" height="92.90" fill="#fff" stroke="#8c8c8c" stroke-width="0.9"/>
<line x1="239.90" y1="131.00" x2="245.10" y2="131.00" stroke="#000" stroke-width="1.45"/>
<line x1="259.60" y1="131.00" x2="264.80" y2="131.00" stroke="#000" stroke-width="1.45"/>
<polygon points="255.15,131.00 254.24,129.91 253.75,128.58 252.35,128.82 250.95,128.58 250.46,129.91 249.55,131.00 250.46,132.09 250.95,133.42 252.35,133.18 253.75,133.42 254.24,132.09" fill="#000"/>
<text x="266.80" y="134.20" class="lg">Detected Fault</text>
<line x1="239.90" y1="140.06" x2="264.80" y2="140.06" stroke="#7E2F8E" stroke-width="1.45"/>
<text x="266.80" y="143.26" class="lg">Model No-1</text>
<line x1="239.90" y1="149.12" x2="264.80" y2="149.12" stroke="#EDB120" stroke-width="1.45"/>
<text x="266.80" y="152.32" class="lg">Model No-2</text>
<line x1="239.90" y1="158.18" x2="264.80" y2="158.18" stroke="#A2142F" stroke-width="1.45"/>
<text x="266.80" y="161.38" class="lg">Model No-3</text>
<line x1="239.90" y1="167.24" x2="264.80" y2="167.24" stroke="#77AC30" stroke-width="1.45"/>
<text x="266.80" y="170.44" class="lg">Model No-4</text>
<line x1="239.90" y1="176.30" x2="264.80" y2="176.30" stroke="#FF00FF" stroke-width="1.45"/>
<text x="266.80" y="179.50" class="lg">Model No-5</text>
<line x1="239.90" y1="185.36" x2="264.80" y2="185.36" stroke="#FFFF00" stroke-width="1.45"/>
<text x="266.80" y="188.56" class="lg">Model No-6</text>
<line x1="239.90" y1="194.42" x2="264.80" y2="194.42" stroke="#0000FF" stroke-width="1.45"/>
<text x="266.80" y="197.62" class="lg">Model No-7</text>
<line x1="239.90" y1="203.48" x2="264.80" y2="203.48" stroke="#00FFFF" stroke-width="1.45"/>
<text x="266.80" y="206.68" class="lg">Model No-8</text>
<line x1="239.90" y1="212.54" x2="264.80" y2="212.54" stroke="#FF0000" stroke-width="1.45"/>
<polygon points="254.95,212.54 254.11,211.53 253.65,210.29 252.35,210.51 251.05,210.29 250.59,211.53 249.75,212.54 250.59,213.55 251.05,214.79 252.35,214.57 253.65,214.79 254.11,213.55" fill="#FF0000"/>
<text x="266.80" y="215.74" class="lg">Proposed Model</text>
<text class="yl" transform="translate(30.7,110.5) rotate(-90)" text-anchor="middle">Cummulative Number of Detected Fault</text>
<path d="M394.30 218.40 L410.31 218.40 L426.32 210.87 L442.34 207.29 L458.35 201.19 L474.36 175.02 L490.37 153.87 L506.38 130.57 L522.39 99.74 L538.41 89.34 L554.42 89.34 L570.43 77.87 L586.44 68.19 L602.45 53.49 L618.46 50.62 L634.48 46.32 L650.49 37.72 L666.50 24.45" fill="none" stroke="#000" stroke-width="1.45" stroke-dasharray="3.6,2.4"/>
<polygon points="397.00,218.40 396.12,217.35 395.65,216.06 394.30,216.29 392.95,216.06 392.48,217.35 391.60,218.40 392.48,219.45 392.95,220.74 394.30,220.51 395.65,220.74 396.12,219.45" fill="#000"/>
<polygon points="413.01,218.40 412.14,217.35 411.66,216.06 410.31,216.29 408.96,216.06 408.49,217.35 407.61,218.40 408.49,219.45 408.96,220.74 410.31,220.51 411.66,220.74 412.14,219.45" fill="#000"/>
<polygon points="429.02,210.87 428.15,209.82 427.67,208.53 426.32,208.77 424.97,208.53 424.50,209.82 423.62,210.87 424.50,211.92 424.97,213.21 426.32,212.98 427.67,213.21 428.15,211.92" fill="#000"/>
<polygon points="445.04,207.29 444.16,206.23 443.69,204.95 442.34,205.18 440.99,204.95 440.51,206.23 439.64,207.29 440.51,208.34 440.99,209.62 442.34,209.39 443.69,209.62 444.16,208.34" fill="#000"/>
<polygon points="461.05,201.19 460.17,200.14 459.70,198.85 458.35,199.09 457.00,198.85 456.52,200.14 455.65,201.19 456.52,202.25 457.00,203.53 458.35,203.30 459.70,203.53 460.17,202.25" fill="#000"/>
<polygon points="477.06,175.02 476.18,173.97 475.71,172.68 474.36,172.92 473.01,172.68 472.53,173.97 471.66,175.02 472.53,176.07 473.01,177.36 474.36,177.13 475.71,177.36 476.18,176.07" fill="#000"/>
<polygon points="493.07,153.87 492.19,152.82 491.72,151.53 490.37,151.76 489.02,151.53 488.55,152.82 487.67,153.87 488.55,154.92 489.02,156.21 490.37,155.98 491.72,156.21 492.19,154.92" fill="#000"/>
<polygon points="509.08,130.57 508.21,129.51 507.73,128.23 506.38,128.46 505.03,128.23 504.56,129.51 503.68,130.57 504.56,131.62 505.03,132.91 506.38,132.67 507.73,132.91 508.21,131.62" fill="#000"/>
<polygon points="525.09,99.74 524.22,98.68 523.74,97.40 522.39,97.63 521.04,97.40 520.57,98.68 519.69,99.74 520.57,100.79 521.04,102.07 522.39,101.84 523.74,102.07 524.22,100.79" fill="#000"/>
<polygon points="541.11,89.34 540.23,88.29 539.76,87.00 538.41,87.23 537.06,87.00 536.58,88.29 535.71,89.34 536.58,90.39 537.06,91.68 538.41,91.45 539.76,91.68 540.23,90.39" fill="#000"/>
<polygon points="557.12,89.34 556.24,88.29 555.77,87.00 554.42,87.23 553.07,87.00 552.59,88.29 551.72,89.34 552.59,90.39 553.07,91.68 554.42,91.45 555.77,91.68 556.24,90.39" fill="#000"/>
<polygon points="573.13,77.87 572.25,76.81 571.78,75.53 570.43,75.76 569.08,75.53 568.61,76.81 567.73,77.87 568.61,78.92 569.08,80.21 570.43,79.97 571.78,80.21 572.25,78.92" fill="#000"/>
<polygon points="589.14,68.19 588.27,67.14 587.79,65.85 586.44,66.08 585.09,65.85 584.62,67.14 583.74,68.19 584.62,69.24 585.09,70.53 586.44,70.29 587.79,70.53 588.27,69.24" fill="#000"/>
<polygon points="605.15,53.49 604.28,52.44 603.80,51.15 602.45,51.38 601.10,51.15 600.63,52.44 599.75,53.49 600.63,54.54 601.10,55.83 602.45,55.60 603.80,55.83 604.28,54.54" fill="#000"/>
<polygon points="621.16,50.62 620.29,49.57 619.81,48.28 618.46,48.52 617.11,48.28 616.64,49.57 615.76,50.62 616.64,51.68 617.11,52.96 618.46,52.73 619.81,52.96 620.29,51.68" fill="#000"/>
<polygon points="637.18,46.32 636.30,45.27 635.83,43.98 634.48,44.21 633.13,43.98 632.65,45.27 631.78,46.32 632.65,47.37 633.13,48.66 634.48,48.43 635.83,48.66 636.30,47.37" fill="#000"/>
<polygon points="653.19,37.72 652.31,36.66 651.84,35.38 650.49,35.61 649.14,35.38 648.66,36.66 647.79,37.72 648.66,38.77 649.14,40.05 650.49,39.82 651.84,40.05 652.31,38.77" fill="#000"/>
<polygon points="669.20,24.45 668.32,23.40 667.85,22.11 666.50,22.35 665.15,22.11 664.68,23.40 663.80,24.45 664.68,25.50 665.15,26.79 666.50,26.56 667.85,26.79 668.32,25.50" fill="#000"/>
<path d="M394.30 218.40 L395.10 218.30 L395.90 218.20 L396.70 218.11 L397.50 218.02 L398.30 217.93 L399.10 217.85 L399.90 217.77 L400.70 217.69 L401.51 217.60 L402.31 217.52 L403.11 217.43 L403.91 217.33 L404.71 217.23 L405.51 217.12 L406.31 217.00 L407.11 216.88 L407.91 216.74 L408.71 216.59 L409.51 216.43 L410.31 216.25 L411.11 216.02 L411.91 215.70 L412.71 215.30 L413.51 214.82 L414.31 214.28 L415.12 213.68 L415.92 213.02 L416.72 212.32 L417.52 211.58 L418.32 210.81 L419.12 210.02 L419.92 209.21 L420.72 208.39 L421.52 207.57 L422.32 206.75 L423.12 205.94 L423.92 205.16 L424.72 204.40 L425.52 203.67 L426.32 202.98 L427.12 202.32 L427.92 201.66 L428.73 200.99 L429.53 200.33 L430.33 199.67 L431.13 199.01 L431.93 198.34 L432.73 197.68 L433.53 197.02 L434.33 196.35 L435.13 195.69 L435.93 195.03 L436.73 194.36 L437.53 193.70 L438.33 193.04 L439.13 192.37 L439.93 191.71 L440.73 191.05 L441.53 190.38 L442.34 189.72 L443.14 189.06 L443.94 188.41 L444.74 187.76 L445.54 187.11 L446.34 186.47 L447.14 185.83 L447.94 185.19 L448.74 184.55 L449.54 183.91 L450.34 183.27 L451.14 182.62 L451.94 181.97 L452.74 181.31 L453.54 180.65 L454.34 179.97 L455.14 179.29 L455.95 178.60 L456.75 177.90 L457.55 177.18 L458.35 176.46 L459.15 175.71 L459.95 174.95 L460.75 174.17 L461.55 173.37 L462.35 172.56 L463.15 171.74 L463.95 170.90 L464.75 170.06 L465.55 169.22 L466.35 168.36 L467.15 167.51 L467.95 166.65 L468.75 165.80 L469.56 164.94 L470.36 164.09 L471.16 163.25 L471.96 162.41 L472.76 161.58 L473.56 160.77 L474.36 159.96 L475.16 159.17 L475.96 158.38 L476.76 157.60 L477.56 156.82 L478.36 156.05 L479.16 155.27 L479.96 154.51 L480.76 153.74 L481.56 152.98 L482.36 152.21 L483.17 151.45 L483.97 150.69 L484.77 149.93 L485.57 149.17 L486.37 148.40 L487.17 147.64 L487.97 146.87 L488.77 146.10 L489.57 145.33 L490.37 144.55 L491.17 143.77 L491.97 142.98 L492.77 142.20 L493.57 141.41 L494.37 140.61 L495.17 139.82 L495.97 139.03 L496.78 138.23 L497.58 137.43 L498.38 136.64 L499.18 135.84 L499.98 135.05 L500.78 134.26 L501.58 133.46 L502.38 132.68 L503.18 131.89 L503.98 131.10 L504.78 130.32 L505.58 129.55 L506.38 128.78 L507.18 128.01 L507.98 127.24 L508.78 126.48 L509.58 125.71 L510.39 124.95 L511.19 124.19 L511.99 123.44 L512.79 122.68 L513.59 121.93 L514.39 121.18 L515.19 120.43 L515.99 119.68 L516.79 118.93 L517.59 118.19 L518.39 117.44 L519.19 116.69 L519.99 115.95 L520.79 115.21 L521.59 114.46 L522.39 113.72 L523.19 112.97 L524.00 112.22 L524.80 111.47 L525.60 110.71 L526.40 109.95 L527.20 109.20 L528.00 108.44 L528.80 107.68 L529.60 106.93 L530.40 106.18 L531.20 105.43 L532.00 104.68 L532.80 103.95 L533.60 103.22 L534.40 102.49 L535.20 101.78 L536.00 101.07 L536.80 100.38 L537.61 99.69 L538.41 99.02 L539.21 98.36 L540.01 97.70 L540.81 97.05 L541.61 96.41 L542.41 95.78 L543.21 95.15 L544.01 94.52 L544.81 93.91 L545.61 93.29 L546.41 92.69 L547.21 92.09 L548.01 91.49 L548.81 90.89 L549.61 90.30 L550.41 89.72 L551.22 89.13 L552.02 88.55 L552.82 87.98 L553.62 87.40 L554.42 86.83 L555.22 86.26 L556.02 85.71 L556.82 85.15 L557.62 84.61 L558.42 84.07 L559.22 83.54 L560.02 83.01 L560.82 82.48 L561.62 81.96 L562.42 81.43 L563.22 80.91 L564.02 80.39 L564.83 79.86 L565.63 79.33 L566.43 78.80 L567.23 78.27 L568.03 77.73 L568.83 77.19 L569.63 76.63 L570.43 76.08 L571.23 75.51 L572.03 74.94 L572.83 74.36 L573.63 73.78 L574.43 73.19 L575.23 72.60 L576.03 72.00 L576.83 71.41 L577.63 70.81 L578.44 70.21 L579.24 69.61 L580.04 69.01 L580.84 68.40 L581.64 67.80 L582.44 67.20 L583.24 66.61 L584.04 66.01 L584.84 65.42 L585.64 64.83 L586.44 64.25 L587.24 63.66 L588.04 63.08 L588.84 62.49 L589.64 61.90 L590.44 61.32 L591.24 60.73 L592.05 60.14 L592.85 59.56 L593.65 58.97 L594.45 58.39 L595.25 57.81 L596.05 57.23 L596.85 56.66 L597.65 56.09 L598.45 55.53 L599.25 54.96 L600.05 54.41 L600.85 53.86 L601.65 53.31 L602.45 52.77 L603.25 52.24 L604.05 51.70 L604.85 51.16 L605.66 50.63 L606.46 50.09 L607.26 49.56 L608.06 49.03 L608.86 48.50 L609.66 47.98 L610.46 47.46 L611.26 46.95 L612.06 46.45 L612.86 45.95 L613.66 45.46 L614.46 44.98 L615.26 44.51 L616.06 44.05 L616.86 43.60 L617.66 43.16 L618.46 42.74 L619.27 42.32 L620.07 41.92 L620.87 41.52 L621.67 41.14 L622.47 40.76 L623.27 40.38 L624.07 40.02 L624.87 39.66 L625.67 39.30 L626.47 38.95 L627.27 38.61 L628.07 38.26 L628.87 37.92 L629.67 37.59 L630.47 37.25 L631.27 36.91 L632.07 36.58 L632.88 36.24 L633.68 35.90 L634.48 35.56 L635.28 35.23 L636.08 34.89 L636.88 34.56 L637.68 34.23 L638.48 33.90 L639.28 33.57 L640.08 33.24 L640.88 32.92 L641.68 32.59 L642.48 32.27 L643.28 31.95 L644.08 31.63 L644.88 31.32 L645.68 31.00 L646.49 30.68 L647.29 30.37 L648.09 30.05 L648.89 29.74 L649.69 29.43 L650.49 29.11 L651.29 28.80 L652.09 28.49 L652.89 28.18 L653.69 27.87 L654.49 27.56 L655.29 27.26 L656.09 26.95 L656.89 26.65 L657.69 26.35 L658.49 26.04 L659.29 25.74 L660.10 25.44 L660.90 25.14 L661.70 24.83 L662.50 24.53 L663.30 24.23 L664.10 23.93 L664.90 23.63 L665.70 23.32 L666.50 23.02" fill="none" stroke="#0000FF" stroke-width="1.45" stroke-linejoin="round"/>
<path d="M394.30 218.40 L395.13 217.68 L395.95 216.96 L396.78 216.24 L397.60 215.52 L398.43 214.80 L399.25 214.08 L400.08 213.36 L400.90 212.64 L401.73 211.93 L402.55 211.21 L403.38 210.50 L404.20 209.79 L405.03 209.08 L405.83 208.39 L406.63 207.71 L407.43 207.02 L408.23 206.33 L409.03 205.65 L409.83 204.96 L410.63 204.27 L411.43 203.59 L412.23 202.91 L413.03 202.22 L413.83 201.54 L414.63 200.86 L415.44 200.18 L416.24 199.50 L417.04 198.83 L417.84 198.16 L418.64 197.49 L419.44 196.82 L420.24 196.15 L421.04 195.49 L421.84 194.83 L422.64 194.18 L423.44 193.52 L424.24 192.87 L425.04 192.23 L425.87 191.57 L426.70 190.91 L427.52 190.26 L428.35 189.62 L429.18 188.98 L430.01 188.34 L430.83 187.71 L431.66 187.08 L432.49 186.45 L433.32 185.82 L434.14 185.19 L434.97 184.56 L435.80 183.93 L436.62 183.30 L437.45 182.67 L438.28 182.04 L439.11 181.40 L439.93 180.76 L440.77 180.11 L441.61 179.45 L442.44 178.80 L443.28 178.15 L444.11 177.50 L444.95 176.84 L445.79 176.19 L446.62 175.53 L447.46 174.87 L448.30 174.22 L449.13 173.56 L449.97 172.90 L450.80 172.24 L451.64 171.58 L452.48 170.92 L453.31 170.26 L454.15 169.59 L454.98 168.93 L455.79 168.29 L456.59 167.65 L457.39 167.00 L458.19 166.35 L458.99 165.70 L459.79 165.04 L460.59 164.39 L461.39 163.73 L462.19 163.07 L462.99 162.41 L463.79 161.76 L464.59 161.10 L465.39 160.44 L466.19 159.78 L466.99 159.13 L467.79 158.48 L468.59 157.83 L469.40 157.19 L470.20 156.54 L471.00 155.91 L471.80 155.27 L472.60 154.64 L473.40 154.02 L474.20 153.41 L475.00 152.79 L475.80 152.19 L476.60 151.59 L477.40 150.99 L478.20 150.39 L479.00 149.80 L479.80 149.21 L480.60 148.63 L481.40 148.04 L482.20 147.46 L483.01 146.89 L483.81 146.31 L484.61 145.74 L485.41 145.17 L486.21 144.60 L487.01 144.03 L487.81 143.47 L488.61 142.91 L489.41 142.34 L490.21 141.78 L491.01 141.23 L491.81 140.67 L492.61 140.11 L493.41 139.56 L494.21 139.01 L495.01 138.45 L495.85 137.88 L496.69 137.32 L497.52 136.76 L498.36 136.21 L499.19 135.66 L500.03 135.12 L500.87 134.58 L501.70 134.04 L502.54 133.50 L503.38 132.95 L504.21 132.41 L505.05 131.86 L505.88 131.31 L506.72 130.75 L507.56 130.18 L508.39 129.60 L509.23 129.01 L510.07 128.42 L510.89 127.82 L511.71 127.20 L512.53 126.58 L513.35 125.95 L514.18 125.30 L515.00 124.65 L515.82 124.00 L516.64 123.33 L517.47 122.67 L518.29 122.00 L519.11 121.32 L519.93 120.65 L520.76 119.98 L521.58 119.30 L522.40 118.63 L523.22 117.96 L524.05 117.30 L524.87 116.64 L525.69 115.99 L526.51 115.34 L527.34 114.70 L528.16 114.08 L528.96 113.47 L529.76 112.87 L530.56 112.27 L531.36 111.68 L532.16 111.09 L532.96 110.50 L533.76 109.92 L534.56 109.33 L535.36 108.75 L536.16 108.17 L536.96 107.60 L537.77 107.02 L538.57 106.45 L539.37 105.88 L540.17 105.30 L540.97 104.73 L541.77 104.16 L542.57 103.59 L543.37 103.03 L544.17 102.46 L544.97 101.89 L545.80 101.30 L546.63 100.71 L547.45 100.12 L548.28 99.53 L549.11 98.95 L549.93 98.36 L550.76 97.77 L551.59 97.19 L552.42 96.61 L553.24 96.02 L554.07 95.45 L554.90 94.87 L555.73 94.30 L556.55 93.73 L557.38 93.16 L558.21 92.60 L559.03 92.04 L559.86 91.49 L560.71 90.93 L561.55 90.38 L562.40 89.84 L563.24 89.30 L564.09 88.76 L564.93 88.23 L565.78 87.70 L566.62 87.18 L567.47 86.65 L568.31 86.13 L569.16 85.60 L570.00 85.07 L570.85 84.54 L571.69 84.01 L572.54 83.47 L573.38 82.92 L574.23 82.37 L575.07 81.81 L575.87 81.27 L576.67 80.73 L577.47 80.19 L578.28 79.63 L579.08 79.08 L579.88 78.52 L580.68 77.95 L581.48 77.39 L582.28 76.82 L583.08 76.25 L583.88 75.67 L584.68 75.10 L585.48 74.52 L586.28 73.94 L587.08 73.36 L587.88 72.78 L588.68 72.20 L589.48 71.62 L590.28 71.04 L591.08 70.46 L591.89 69.88 L592.69 69.31 L593.49 68.73 L594.29 68.16 L595.09 67.59 L595.89 67.03 L596.69 66.46 L597.49 65.90 L598.29 65.34 L599.09 64.79 L599.89 64.25 L600.74 63.67 L601.58 63.10 L602.43 62.53 L603.27 61.96 L604.12 61.40 L604.96 60.83 L605.81 60.27 L606.65 59.71 L607.50 59.15 L608.34 58.60 L609.19 58.05 L610.03 57.49 L610.88 56.94 L611.72 56.39 L612.57 55.84 L613.41 55.30 L614.26 54.75 L615.10 54.21 L615.90 53.69 L616.70 53.18 L617.50 52.67 L618.30 52.16 L619.11 51.66 L619.91 51.15 L620.71 50.65 L621.51 50.15 L622.31 49.65 L623.11 49.15 L623.91 48.65 L624.71 48.15 L625.51 47.66 L626.31 47.16 L627.11 46.66 L627.91 46.17 L628.71 45.67 L629.51 45.17 L630.31 44.67 L631.11 44.17 L631.91 43.67 L632.72 43.17 L633.52 42.67 L634.32 42.17 L635.12 41.66 L635.92 41.15 L636.73 40.64 L637.53 40.13 L638.34 39.62 L639.14 39.11 L639.95 38.59 L640.75 38.08 L641.55 37.57 L642.36 37.06 L643.16 36.54 L643.97 36.03 L644.77 35.51 L645.58 35.00 L646.38 34.48 L647.19 33.97 L647.99 33.45 L648.80 32.94 L649.60 32.42 L650.41 31.91 L651.21 31.39 L652.02 30.87 L652.82 30.36 L653.62 29.84 L654.43 29.32 L655.23 28.81 L656.04 28.29 L656.84 27.77 L657.65 27.26 L658.45 26.74 L659.26 26.23 L660.06 25.71 L660.87 25.19 L661.67 24.68 L662.48 24.16 L663.28 23.64 L664.09 23.13 L664.89 22.61 L665.70 22.10 L666.50 21.58" fill="none" stroke="#00FFFF" stroke-width="1.45" stroke-linejoin="round"/>
<path d="M394.30 218.40 L395.10 218.17 L395.90 217.95 L396.70 217.74 L397.50 217.54 L398.30 217.34 L399.10 217.14 L399.90 216.94 L400.70 216.75 L401.51 216.55 L402.31 216.34 L403.11 216.13 L403.91 215.92 L404.71 215.69 L405.51 215.46 L406.31 215.21 L407.11 214.95 L407.91 214.68 L408.71 214.38 L409.51 214.07 L410.31 213.74 L411.11 213.37 L411.91 212.94 L412.71 212.46 L413.51 211.93 L414.31 211.36 L415.12 210.76 L415.92 210.12 L416.72 209.45 L417.52 208.76 L418.32 208.04 L419.12 207.32 L419.92 206.58 L420.72 205.83 L421.52 205.09 L422.32 204.34 L423.12 203.61 L423.92 202.89 L424.72 202.18 L425.52 201.49 L426.32 200.83 L427.12 200.19 L427.92 199.54 L428.73 198.89 L429.53 198.24 L430.33 197.59 L431.13 196.94 L431.93 196.29 L432.73 195.64 L433.53 194.98 L434.33 194.33 L435.13 193.69 L435.93 193.04 L436.73 192.39 L437.53 191.75 L438.33 191.10 L439.13 190.46 L439.93 189.82 L440.73 189.19 L441.53 188.56 L442.34 187.93 L443.14 187.30 L443.94 186.69 L444.74 186.08 L445.54 185.48 L446.34 184.88 L447.14 184.28 L447.94 183.69 L448.74 183.10 L449.54 182.51 L450.34 181.91 L451.14 181.32 L451.94 180.72 L452.74 180.12 L453.54 179.52 L454.34 178.91 L455.14 178.29 L455.95 177.67 L456.75 177.03 L457.55 176.39 L458.35 175.74 L459.15 175.07 L459.95 174.40 L460.75 173.71 L461.55 173.01 L462.35 172.31 L463.15 171.60 L463.95 170.88 L464.75 170.15 L465.55 169.42 L466.35 168.69 L467.15 167.96 L467.95 167.22 L468.75 166.48 L469.56 165.75 L470.36 165.01 L471.16 164.28 L471.96 163.55 L472.76 162.83 L473.56 162.11 L474.36 161.40 L475.16 160.69 L475.96 159.98 L476.76 159.28 L477.56 158.57 L478.36 157.86 L479.16 157.15 L479.96 156.45 L480.76 155.75 L481.56 155.04 L482.36 154.34 L483.17 153.64 L483.97 152.94 L484.77 152.24 L485.57 151.55 L486.37 150.85 L487.17 150.16 L487.97 149.47 L488.77 148.78 L489.57 148.10 L490.37 147.42 L491.17 146.74 L491.97 146.06 L492.77 145.39 L493.57 144.72 L494.37 144.05 L495.17 143.39 L495.97 142.72 L496.78 142.06 L497.58 141.40 L498.38 140.74 L499.18 140.08 L499.98 139.42 L500.78 138.77 L501.58 138.11 L502.38 137.45 L503.18 136.79 L503.98 136.14 L504.78 135.48 L505.58 134.81 L506.38 134.15 L507.18 133.49 L507.98 132.82 L508.78 132.15 L509.58 131.48 L510.39 130.81 L511.19 130.14 L511.99 129.47 L512.79 128.79 L513.59 128.12 L514.39 127.45 L515.19 126.78 L515.99 126.11 L516.79 125.45 L517.59 124.78 L518.39 124.13 L519.19 123.47 L519.99 122.82 L520.79 122.17 L521.59 121.53 L522.39 120.89 L523.19 120.25 L524.00 119.62 L524.80 118.99 L525.60 118.35 L526.40 117.72 L527.20 117.09 L528.00 116.47 L528.80 115.85 L529.60 115.23 L530.40 114.61 L531.20 114.00 L532.00 113.39 L532.80 112.78 L533.60 112.18 L534.40 111.59 L535.20 111.00 L536.00 110.41 L536.80 109.83 L537.61 109.26 L538.41 108.70 L539.21 108.14 L540.01 107.59 L540.81 107.04 L541.61 106.50 L542.41 105.97 L543.21 105.44 L544.01 104.91 L544.81 104.39 L545.61 103.87 L546.41 103.35 L547.21 102.84 L548.01 102.33 L548.81 101.82 L549.61 101.31 L550.41 100.81 L551.22 100.31 L552.02 99.81 L552.82 99.30 L553.62 98.80 L554.42 98.30 L555.22 97.80 L556.02 97.31 L556.82 96.82 L557.62 96.34 L558.42 95.86 L559.22 95.38 L560.02 94.90 L560.82 94.43 L561.62 93.96 L562.42 93.48 L563.22 93.01 L564.02 92.53 L564.83 92.06 L565.63 91.58 L566.43 91.10 L567.23 90.61 L568.03 90.12 L568.83 89.63 L569.63 89.13 L570.43 88.62 L571.23 88.11 L572.03 87.59 L572.83 87.07 L573.63 86.54 L574.43 86.01 L575.23 85.48 L576.03 84.94 L576.83 84.40 L577.63 83.86 L578.44 83.32 L579.24 82.77 L580.04 82.22 L580.84 81.68 L581.64 81.13 L582.44 80.58 L583.24 80.04 L584.04 79.49 L584.84 78.95 L585.64 78.41 L586.44 77.87 L587.24 77.33 L588.04 76.79 L588.84 76.25 L589.64 75.71 L590.44 75.17 L591.24 74.63 L592.05 74.09 L592.85 73.55 L593.65 73.01 L594.45 72.47 L595.25 71.93 L596.05 71.39 L596.85 70.85 L597.65 70.31 L598.45 69.78 L599.25 69.24 L600.05 68.71 L600.85 68.17 L601.65 67.64 L602.45 67.11 L603.25 66.59 L604.05 66.06 L604.85 65.54 L605.66 65.02 L606.46 64.51 L607.26 63.99 L608.06 63.48 L608.86 62.96 L609.66 62.45 L610.46 61.94 L611.26 61.42 L612.06 60.91 L612.86 60.39 L613.66 59.88 L614.46 59.36 L615.26 58.83 L616.06 58.31 L616.86 57.78 L617.66 57.25 L618.46 56.72 L619.27 56.18 L620.07 55.63 L620.87 55.08 L621.67 54.53 L622.47 53.97 L623.27 53.41 L624.07 52.85 L624.87 52.29 L625.67 51.72 L626.47 51.16 L627.27 50.59 L628.07 50.03 L628.87 49.47 L629.67 48.91 L630.47 48.35 L631.27 47.79 L632.07 47.24 L632.88 46.69 L633.68 46.14 L634.48 45.60 L635.28 45.07 L636.08 44.54 L636.88 44.01 L637.68 43.48 L638.48 42.96 L639.28 42.44 L640.08 41.93 L640.88 41.41 L641.68 40.90 L642.48 40.38 L643.28 39.87 L644.08 39.36 L644.88 38.84 L645.68 38.33 L646.49 37.81 L647.29 37.30 L648.09 36.78 L648.89 36.26 L649.69 35.73 L650.49 35.21 L651.29 34.68 L652.09 34.15 L652.89 33.61 L653.69 33.08 L654.49 32.54 L655.29 32.01 L656.09 31.47 L656.89 30.93 L657.69 30.39 L658.49 29.85 L659.29 29.31 L660.10 28.77 L660.90 28.23 L661.70 27.69 L662.50 27.15 L663.30 26.61 L664.10 26.07 L664.90 25.53 L665.70 24.99 L666.50 24.45" fill="none" stroke="#FF0000" stroke-width="1.45" stroke-linejoin="round"/>
<path d="M394.30 218.40 L395.10 218.40 L395.90 218.40 L396.70 218.40 L397.50 218.40 L398.30 218.40 L399.10 218.40 L399.90 218.40 L400.70 218.40 L401.51 218.40 L402.31 218.40 L403.11 218.40 L403.91 218.40 L404.71 218.40 L405.51 218.40 L406.31 218.40 L407.11 218.40 L407.91 218.40 L408.71 218.40 L409.51 218.40 L410.31 218.40 L411.23 218.22 L412.14 217.74 L413.06 217.03 L413.97 216.16 L414.89 215.22 L415.80 214.27 L416.72 213.38 L417.52 212.62 L418.32 211.81 L419.12 210.96 L419.92 210.09 L420.72 209.21 L421.52 208.36 L422.32 207.52 L423.12 206.66 L423.92 205.80 L424.72 204.95 L425.52 204.13 L426.32 203.34 L427.12 202.59 L427.92 201.84 L428.73 201.11 L429.53 200.40 L430.33 199.69 L431.13 199.00 L431.93 198.31 L432.73 197.64 L433.53 196.96 L434.33 196.30 L435.13 195.64 L435.93 194.98 L436.73 194.33 L437.53 193.67 L438.33 193.02 L439.13 192.37 L439.93 191.71 L440.73 191.05 L441.53 190.39 L442.34 189.72 L443.14 189.05 L443.94 188.39 L444.74 187.74 L445.54 187.09 L446.34 186.45 L447.14 185.81 L447.94 185.17 L448.74 184.53 L449.54 183.89 L450.34 183.25 L451.14 182.60 L451.94 181.95 L452.74 181.30 L453.54 180.64 L454.34 179.97 L455.14 179.29 L455.95 178.60 L456.75 177.90 L457.55 177.18 L458.35 176.46 L459.15 175.71 L459.95 174.95 L460.75 174.17 L461.55 173.37 L462.35 172.56 L463.15 171.74 L463.95 170.90 L464.75 170.06 L465.55 169.22 L466.35 168.36 L467.15 167.51 L467.95 166.65 L468.75 165.80 L469.56 164.94 L470.36 164.09 L471.16 163.25 L471.96 162.41 L472.76 161.58 L473.56 160.77 L474.36 159.96 L475.16 159.17 L475.96 158.38 L476.76 157.60 L477.56 156.82 L478.36 156.05 L479.16 155.27 L479.96 154.51 L480.76 153.74 L481.56 152.98 L482.36 152.21 L483.17 151.45 L483.97 150.69 L484.77 149.93 L485.57 149.17 L486.37 148.40 L487.17 147.64 L487.97 146.87 L488.77 146.10 L489.57 145.33 L490.37 144.55 L491.17 143.77 L491.97 142.98 L492.77 142.20 L493.57 141.41 L494.37 140.61 L495.17 139.82 L495.97 139.03 L496.78 138.23 L497.58 137.43 L498.38 136.64 L499.18 135.84 L499.98 135.05 L500.78 134.26 L501.58 133.46 L502.38 132.68 L503.18 131.89 L503.98 131.10 L504.78 130.32 L505.58 129.55 L506.38 128.78 L507.18 128.01 L507.98 127.24 L508.78 126.48 L509.58 125.71 L510.39 124.95 L511.19 124.19 L511.99 123.44 L512.79 122.68 L513.59 121.93 L514.39 121.18 L515.19 120.43 L515.99 119.68 L516.79 118.93 L517.59 118.19 L518.39 117.44 L519.19 116.69 L519.99 115.95 L520.79 115.21 L521.59 114.46 L522.39 113.72 L523.19 112.97 L524.00 112.22 L524.80 111.47 L525.60 110.71 L526.40 109.95 L527.20 109.20 L528.00 108.44 L528.80 107.68 L529.60 106.93 L530.40 106.18 L531.20 105.43 L532.00 104.68 L532.80 103.95 L533.60 103.22 L534.40 102.49 L535.20 101.78 L536.00 101.07 L536.80 100.38 L537.61 99.69 L538.41 99.02 L539.21 98.36 L540.01 97.70 L540.81 97.05 L541.61 96.41 L542.41 95.78 L543.21 95.15 L544.01 94.52 L544.81 93.91 L545.61 93.29 L546.41 92.69 L547.21 92.09 L548.01 91.49 L548.81 90.89 L549.61 90.30 L550.41 89.72 L551.22 89.13 L552.02 88.55 L552.82 87.98 L553.62 87.40 L554.42 86.83 L555.22 86.26 L556.02 85.71 L556.82 85.15 L557.62 84.61 L558.42 84.07 L559.22 83.54 L560.02 83.01 L560.82 82.48 L561.62 81.96 L562.42 81.43 L563.22 80.91 L564.02 80.39 L564.83 79.86 L565.63 79.33 L566.43 78.80 L567.23 78.27 L568.03 77.73 L568.83 77.19 L569.63 76.63 L570.43 76.08 L571.23 75.51 L572.03 74.94 L572.83 74.36 L573.63 73.78 L574.43 73.19 L575.23 72.60 L576.03 72.00 L576.83 71.41 L577.63 70.81 L578.44 70.21 L579.24 69.61 L580.04 69.01 L580.84 68.40 L581.64 67.80 L582.44 67.20 L583.24 66.61 L584.04 66.01 L584.84 65.42 L585.64 64.83 L586.44 64.25 L587.24 63.66 L588.04 63.08 L588.84 62.49 L589.64 61.90 L590.44 61.32 L591.24 60.73 L592.05 60.14 L592.85 59.56 L593.65 58.97 L594.45 58.39 L595.25 57.81 L596.05 57.23 L596.85 56.66 L597.65 56.09 L598.45 55.53 L599.25 54.96 L600.05 54.41 L600.85 53.86 L601.65 53.31 L602.45 52.77 L603.25 52.24 L604.05 51.70 L604.85 51.16 L605.66 50.63 L606.46 50.09 L607.26 49.56 L608.06 49.03 L608.86 48.50 L609.66 47.98 L610.46 47.46 L611.26 46.95 L612.06 46.45 L612.86 45.95 L613.66 45.46 L614.46 44.98 L615.26 44.51 L616.06 44.05 L616.86 43.60 L617.66 43.16 L618.46 42.74 L619.27 42.32 L620.07 41.92 L620.87 41.52 L621.67 41.14 L622.47 40.76 L623.27 40.38 L624.07 40.02 L624.87 39.66 L625.67 39.30 L626.47 38.95 L627.27 38.61 L628.07 38.26 L628.87 37.92 L629.67 37.59 L630.47 37.25 L631.27 36.91 L632.07 36.58 L632.88 36.24 L633.68 35.90 L634.48 35.56 L635.28 35.23 L636.08 34.89 L636.88 34.56 L637.68 34.23 L638.48 33.90 L639.28 33.57 L640.08 33.24 L640.88 32.92 L641.68 32.59 L642.48 32.27 L643.28 31.95 L644.08 31.63 L644.88 31.32 L645.68 31.00 L646.49 30.68 L647.29 30.37 L648.09 30.05 L648.89 29.74 L649.69 29.43 L650.49 29.11 L651.29 28.80 L652.09 28.49 L652.89 28.18 L653.69 27.87 L654.49 27.56 L655.29 27.26 L656.09 26.95 L656.89 26.65 L657.69 26.35 L658.49 26.04 L659.29 25.74 L660.10 25.44 L660.90 25.14 L661.70 24.83 L662.50 24.53 L663.30 24.23 L664.10 23.93 L664.90 23.63 L665.70 23.32 L666.50 23.02" fill="none" stroke="#00FF00" stroke-width="1.45" stroke-linejoin="round"/>
<path d="M394.30 218.40 L395.10 218.17 L395.90 217.95 L396.70 217.74 L397.50 217.54 L398.30 217.34 L399.10 217.14 L399.90 216.94 L400.70 216.75 L401.51 216.55 L402.31 216.34 L403.11 216.13 L403.91 215.92 L404.71 215.69 L405.51 215.46 L406.31 215.21 L407.11 214.95 L407.91 214.68 L408.71 214.38 L409.51 214.07 L410.31 213.74 L411.11 213.37 L411.91 212.94 L412.71 212.46 L413.51 211.93 L414.31 211.36 L415.12 210.76 L415.92 210.12 L416.72 209.45 L417.52 208.76 L418.32 208.04 L419.12 207.32 L419.92 206.58 L420.72 205.83 L421.52 205.09 L422.32 204.34 L423.12 203.61 L423.92 202.89 L424.72 202.18 L425.52 201.49 L426.32 200.83 L427.12 200.19 L427.92 199.54 L428.73 198.89 L429.53 198.24 L430.33 197.59 L431.13 196.94 L431.93 196.29 L432.73 195.64 L433.53 194.98 L434.33 194.33 L435.13 193.69 L435.93 193.04 L436.73 192.39 L437.53 191.75 L438.33 191.10 L439.13 190.46 L439.93 189.82 L440.73 189.19 L441.53 188.56 L442.34 187.93 L443.14 187.30 L443.94 186.69 L444.74 186.08 L445.54 185.48 L446.34 184.88 L447.14 184.28 L447.94 183.69 L448.74 183.10 L449.54 182.51 L450.34 181.91 L451.14 181.32 L451.94 180.72 L452.74 180.12 L453.54 179.52 L454.34 178.91 L455.14 178.29 L455.95 177.67 L456.75 177.03 L457.55 176.39 L458.35 175.74 L459.15 175.07 L459.95 174.40 L460.75 173.71 L461.55 173.01 L462.35 172.31 L463.15 171.60 L463.95 170.88 L464.75 170.15 L465.55 169.42 L466.35 168.69 L467.15 167.96 L467.95 167.22 L468.75 166.48 L469.56 165.75 L470.36 165.01 L471.16 164.28 L471.96 163.55 L472.76 162.83 L473.56 162.11 L474.36 161.40 L475.16 160.69 L475.96 159.98 L476.76 159.28 L477.56 158.57 L478.36 157.86 L479.16 157.15 L479.96 156.45 L480.76 155.75 L481.56 155.04 L482.36 154.34 L483.17 153.64 L483.97 152.94 L484.77 152.24 L485.57 151.55 L486.37 150.85 L487.17 150.16 L487.97 149.47 L488.77 148.78 L489.57 148.10 L490.37 147.42 L491.17 146.74 L491.97 146.06 L492.77 145.39 L493.57 144.72 L494.37 144.05 L495.17 143.39 L495.97 142.72 L496.78 142.06 L497.58 141.40 L498.38 140.74 L499.18 140.08 L499.98 139.42 L500.78 138.77 L501.58 138.11 L502.38 137.45 L503.18 136.79 L503.98 136.14 L504.78 135.48 L505.58 134.81 L506.38 134.15 L507.18 133.49 L507.98 132.82 L508.78 132.15 L509.58 131.48 L510.39 130.81 L511.19 130.14 L511.99 129.47 L512.79 128.79 L513.59 128.12 L514.39 127.45 L515.19 126.78 L515.99 126.11 L516.79 125.45 L517.59 124.78 L518.39 124.13 L519.19 123.47 L519.99 122.82 L520.79 122.17 L521.59 121.53 L522.39 120.89 L523.19 120.25 L524.00 119.62 L524.80 118.99 L525.60 118.35 L526.40 117.72 L527.20 117.09 L528.00 116.47 L528.80 115.85 L529.60 115.23 L530.40 114.61 L531.20 114.00 L532.00 113.39 L532.80 112.78 L533.60 112.18 L534.40 111.59 L535.20 111.00 L536.00 110.41 L536.80 109.83 L537.61 109.26 L538.41 108.70 L539.21 108.14 L540.01 107.59 L540.81 107.04 L541.61 106.50 L542.41 105.97 L543.21 105.44 L544.01 104.91 L544.81 104.39 L545.61 103.87 L546.41 103.35 L547.21 102.84 L548.01 102.33 L548.81 101.82 L549.61 101.31 L550.41 100.81 L551.22 100.31 L552.02 99.81 L552.82 99.30 L553.62 98.80 L554.42 98.30 L555.22 97.80 L556.02 97.31 L556.82 96.82 L557.62 96.34 L558.42 95.86 L559.22 95.38 L560.02 94.90 L560.82 94.43 L561.62 93.96 L562.42 93.48 L563.22 93.01 L564.02 92.53 L564.83 92.06 L565.63 91.58 L566.43 91.10 L567.23 90.61 L568.03 90.12 L568.83 89.63 L569.63 89.13 L570.43 88.62 L571.23 88.11 L572.03 87.59 L572.83 87.07 L573.63 86.54 L574.43 86.01 L575.23 85.48 L576.03 84.94 L576.83 84.40 L577.63 83.86 L578.44 83.32 L579.24 82.77 L580.04 82.22 L580.84 81.68 L581.64 81.13 L582.44 80.58 L583.24 80.04 L584.04 79.49 L584.84 78.95 L585.64 78.41 L586.44 77.87 L587.24 77.33 L588.04 76.79 L588.84 76.25 L589.64 75.71 L590.44 75.17 L591.24 74.63 L592.05 74.09 L592.85 73.55 L593.65 73.01 L594.45 72.47 L595.25 71.93 L596.05 71.39 L596.85 70.85 L597.65 70.31 L598.45 69.78 L599.25 69.24 L600.05 68.71 L600.85 68.17 L601.65 67.64 L602.45 67.11 L603.25 66.59 L604.05 66.06 L604.85 65.54 L605.66 65.02 L606.46 64.51 L607.26 63.99 L608.06 63.48 L608.86 62.96 L609.66 62.45 L610.46 61.94 L611.26 61.42 L612.06 60.91 L612.86 60.39 L613.66 59.88 L614.46 59.36 L615.26 58.83 L616.06 58.31 L616.86 57.78 L617.66 57.25 L618.46 56.72 L619.27 56.18 L620.07 55.63 L620.87 55.08 L621.67 54.53 L622.47 53.97 L623.27 53.41 L624.07 52.85 L624.87 52.29 L625.67 51.72 L626.47 51.16 L627.27 50.59 L628.07 50.03 L628.87 49.47 L629.67 48.91 L630.47 48.35 L631.27 47.79 L632.07 47.24 L632.88 46.69 L633.68 46.14 L634.48 45.60 L635.28 45.07 L636.08 44.54 L636.88 44.01 L637.68 43.48 L638.48 42.96 L639.28 42.44 L640.08 41.93 L640.88 41.41 L641.68 40.90 L642.48 40.38 L643.28 39.87 L644.08 39.36 L644.88 38.84 L645.68 38.33 L646.49 37.81 L647.29 37.30 L648.09 36.78 L648.89 36.26 L649.69 35.73 L650.49 35.21 L651.29 34.68 L652.09 34.15 L652.89 33.61 L653.69 33.08 L654.49 32.54 L655.29 32.01 L656.09 31.47 L656.89 30.93 L657.69 30.39 L658.49 29.85 L659.29 29.31 L660.10 28.77 L660.90 28.23 L661.70 27.69 L662.50 27.15 L663.30 26.61 L664.10 26.07 L664.90 25.53 L665.70 24.99 L666.50 24.45" fill="none" stroke="#A2142F" stroke-width="1.45" stroke-linejoin="round"/>
<path d="M394.30 218.40 L395.10 218.40 L395.90 218.40 L396.70 218.40 L397.50 218.40 L398.30 218.40 L399.10 218.40 L399.90 218.40 L400.70 218.40 L401.51 218.40 L402.31 218.40 L403.11 218.40 L403.91 218.40 L404.71 218.40 L405.51 218.40 L406.31 218.40 L407.11 218.40 L407.91 218.40 L408.71 218.40 L409.51 218.40 L410.31 218.40 L411.11 218.31 L411.91 218.04 L412.71 217.64 L413.51 217.12 L414.31 216.51 L415.12 215.83 L415.92 215.12 L416.72 214.40 L417.52 213.69 L418.32 213.02 L419.20 212.28 L420.08 211.46 L420.96 210.60 L421.84 209.72 L422.72 208.85 L423.60 208.00 L424.51 207.16 L425.42 206.33 L426.32 205.49 L427.12 204.75 L427.92 204.00 L428.73 203.24 L429.53 202.48 L430.33 201.72 L431.13 200.96 L431.93 200.19 L432.73 199.43 L433.53 198.66 L434.33 197.89 L435.13 197.13 L435.93 196.37 L436.73 195.61 L437.53 194.86 L438.33 194.10 L439.13 193.36 L439.93 192.62 L440.73 191.88 L441.53 191.16 L442.34 190.44 L443.14 189.73 L443.94 189.03 L444.74 188.34 L445.54 187.65 L446.34 186.97 L447.14 186.30 L447.94 185.64 L448.74 184.97 L449.54 184.31 L450.34 183.65 L451.14 182.98 L451.94 182.32 L452.74 181.65 L453.54 180.98 L454.34 180.31 L455.14 179.62 L455.95 178.94 L456.75 178.24 L457.55 177.53 L458.35 176.81 L459.15 176.09 L459.95 175.35 L460.75 174.60 L461.55 173.85 L462.35 173.09 L463.15 172.33 L463.95 171.56 L464.75 170.78 L465.55 170.01 L466.35 169.23 L467.15 168.44 L467.95 167.66 L468.75 166.87 L469.56 166.08 L470.36 165.30 L471.16 164.51 L471.96 163.73 L472.76 162.95 L473.56 162.17 L474.36 161.40 L475.16 160.63 L475.96 159.87 L476.76 159.11 L477.56 158.35 L478.36 157.59 L479.16 156.84 L479.96 156.08 L480.76 155.33 L481.56 154.57 L482.36 153.82 L483.17 153.06 L483.97 152.29 L484.77 151.53 L485.57 150.76 L486.37 149.98 L487.17 149.19 L487.97 148.40 L488.77 147.61 L489.57 146.80 L490.37 145.98 L491.20 145.13 L492.02 144.27 L492.85 143.40 L493.67 142.53 L494.50 141.65 L495.33 140.76 L496.15 139.86 L496.98 138.96 L497.80 138.05 L498.63 137.14 L499.46 136.22 L500.28 135.30 L501.11 134.38 L501.93 133.45 L502.76 132.52 L503.58 131.59 L504.41 130.65 L505.24 129.71 L506.06 128.78 L506.88 127.84 L507.70 126.88 L508.52 125.92 L509.34 124.94 L510.15 123.95 L510.97 122.96 L511.79 121.95 L512.61 120.94 L513.43 119.93 L514.25 118.91 L515.06 117.89 L515.88 116.88 L516.70 115.86 L517.52 114.84 L518.34 113.83 L519.16 112.83 L519.97 111.83 L520.79 110.85 L521.61 109.87 L522.43 108.91 L523.25 107.95 L524.07 107.02 L524.88 106.10 L525.70 105.19 L526.52 104.31 L527.34 103.45 L528.16 102.60 L528.96 101.80 L529.76 101.00 L530.56 100.21 L531.36 99.44 L532.16 98.67 L532.96 97.91 L533.76 97.16 L534.56 96.42 L535.36 95.69 L536.16 94.96 L536.96 94.25 L537.77 93.54 L538.57 92.85 L539.37 92.16 L540.17 91.47 L540.97 90.80 L541.77 90.13 L542.57 89.48 L543.37 88.83 L544.17 88.18 L544.97 87.55 L545.78 86.91 L546.60 86.27 L547.41 85.64 L548.22 85.02 L549.04 84.39 L549.85 83.78 L550.67 83.16 L551.48 82.56 L552.29 81.95 L553.11 81.35 L553.92 80.76 L554.73 80.17 L555.55 79.58 L556.36 79.00 L557.17 78.43 L557.99 77.85 L558.80 77.28 L559.61 76.72 L560.43 76.16 L561.24 75.60 L562.06 75.05 L562.87 74.50 L563.68 73.96 L564.50 73.42 L565.31 72.88 L566.12 72.35 L566.94 71.82 L567.75 71.30 L568.56 70.78 L569.38 70.26 L570.19 69.75 L571.00 69.24 L571.82 68.74 L572.63 68.24 L573.45 67.74 L574.26 67.24 L575.07 66.75 L575.87 66.28 L576.67 65.80 L577.47 65.33 L578.28 64.87 L579.08 64.40 L579.88 63.94 L580.68 63.49 L581.48 63.04 L582.28 62.59 L583.08 62.15 L583.88 61.70 L584.68 61.27 L585.48 60.83 L586.28 60.40 L587.08 59.97 L587.88 59.55 L588.68 59.13 L589.48 58.71 L590.28 58.29 L591.08 57.88 L591.89 57.47 L592.69 57.06 L593.49 56.65 L594.29 56.25 L595.09 55.85 L595.89 55.45 L596.69 55.06 L597.49 54.66 L598.29 54.27 L599.09 53.88 L599.89 53.49 L600.74 53.08 L601.58 52.68 L602.43 52.28 L603.27 51.88 L604.12 51.49 L604.96 51.10 L605.81 50.72 L606.65 50.34 L607.50 49.96 L608.34 49.58 L609.19 49.21 L610.03 48.84 L610.88 48.47 L611.72 48.11 L612.57 47.75 L613.41 47.39 L614.26 47.03 L615.10 46.68 L615.91 46.34 L616.72 46.01 L617.52 45.68 L618.33 45.36 L619.14 45.04 L619.95 44.72 L620.75 44.40 L621.56 44.09 L622.37 43.78 L623.17 43.47 L623.98 43.16 L624.79 42.85 L625.60 42.54 L626.40 42.23 L627.21 41.93 L628.02 41.62 L628.83 41.32 L629.63 41.01 L630.44 40.70 L631.25 40.40 L632.05 40.09 L632.86 39.78 L633.67 39.46 L634.48 39.15 L635.28 38.84 L636.08 38.53 L636.88 38.21 L637.68 37.90 L638.48 37.59 L639.28 37.27 L640.08 36.96 L640.88 36.65 L641.68 36.33 L642.48 36.02 L643.28 35.71 L644.08 35.39 L644.88 35.08 L645.68 34.77 L646.49 34.45 L647.29 34.14 L648.09 33.83 L648.89 33.51 L649.69 33.20 L650.49 32.88 L651.29 32.57 L652.09 32.26 L652.89 31.94 L653.69 31.63 L654.49 31.31 L655.29 31.00 L656.09 30.68 L656.89 30.37 L657.69 30.06 L658.49 29.74 L659.29 29.43 L660.10 29.11 L660.90 28.80 L661.70 28.49 L662.50 28.17 L663.30 27.86 L664.10 27.54 L664.90 27.23 L665.70 26.92 L666.50 26.60" fill="none" stroke="#77AC30" stroke-width="1.45" stroke-linejoin="round"/>
<path d="M394.30 218.40 L395.10 218.30 L395.90 218.20 L396.70 218.11 L397.50 218.02 L398.30 217.93 L399.10 217.85 L399.90 217.77 L400.70 217.69 L401.51 217.60 L402.31 217.52 L403.11 217.43 L403.91 217.33 L404.71 217.23 L405.51 217.12 L406.31 217.00 L407.11 216.88 L407.91 216.74 L408.71 216.59 L409.51 216.43 L410.31 216.25 L411.11 216.02 L411.91 215.70 L412.71 215.30 L413.51 214.82 L414.31 214.28 L415.12 213.68 L415.92 213.02 L416.72 212.32 L417.52 211.58 L418.32 210.81 L419.12 210.02 L419.92 209.21 L420.72 208.39 L421.52 207.57 L422.32 206.75 L423.12 205.94 L423.92 205.16 L424.72 204.40 L425.52 203.67 L426.32 202.98 L427.12 202.32 L427.92 201.66 L428.73 200.99 L429.53 200.33 L430.33 199.67 L431.13 199.01 L431.93 198.34 L432.73 197.68 L433.53 197.02 L434.33 196.35 L435.13 195.69 L435.93 195.03 L436.73 194.36 L437.53 193.70 L438.33 193.04 L439.13 192.37 L439.93 191.71 L440.73 191.05 L441.53 190.38 L442.34 189.72 L443.14 189.06 L443.94 188.41 L444.74 187.76 L445.54 187.11 L446.34 186.47 L447.14 185.83 L447.94 185.19 L448.74 184.55 L449.54 183.91 L450.34 183.27 L451.14 182.62 L451.94 181.97 L452.74 181.31 L453.54 180.65 L454.34 179.97 L455.14 179.29 L455.95 178.60 L456.75 177.90 L457.55 177.18 L458.35 176.46 L459.15 175.71 L459.95 174.95 L460.75 174.17 L461.55 173.37 L462.35 172.56 L463.15 171.74 L463.95 170.90 L464.75 170.06 L465.55 169.22 L466.35 168.36 L467.15 167.51 L467.95 166.65 L468.75 165.80 L469.56 164.94 L470.36 164.09 L471.16 163.25 L471.96 162.41 L472.76 161.58 L473.56 160.77 L474.36 159.96 L475.16 159.17 L475.96 158.38 L476.76 157.60 L477.56 156.82 L478.36 156.05 L479.16 155.27 L479.96 154.51 L480.76 153.74 L481.56 152.98 L482.36 152.21 L483.17 151.45 L483.97 150.69 L484.77 149.93 L485.57 149.17 L486.37 148.40 L487.17 147.64 L487.97 146.87 L488.77 146.10 L489.57 145.33 L490.37 144.55 L491.17 143.77 L491.97 142.98 L492.77 142.20 L493.57 141.41 L494.37 140.61 L495.17 139.82 L495.97 139.03 L496.78 138.23 L497.58 137.43 L498.38 136.64 L499.18 135.84 L499.98 135.05 L500.78 134.26 L501.58 133.46 L502.38 132.68 L503.18 131.89 L503.98 131.10 L504.78 130.32 L505.58 129.55 L506.38 128.78 L507.18 128.01 L507.98 127.24 L508.78 126.48 L509.58 125.71 L510.39 124.95 L511.19 124.19 L511.99 123.44 L512.79 122.68 L513.59 121.93 L514.39 121.18 L515.19 120.43 L515.99 119.68 L516.79 118.93 L517.59 118.19 L518.39 117.44 L519.19 116.69 L519.99 115.95 L520.79 115.21 L521.59 114.46 L522.39 113.72 L523.19 112.97 L524.00 112.22 L524.80 111.47 L525.60 110.71 L526.40 109.95 L527.20 109.20 L528.00 108.44 L528.80 107.68 L529.60 106.93 L530.40 106.18 L531.20 105.43 L532.00 104.68 L532.80 103.95 L533.60 103.22 L534.40 102.49 L535.20 101.78 L536.00 101.07 L536.80 100.38 L537.61 99.69 L538.41 99.02 L539.21 98.36 L540.01 97.70 L540.81 97.05 L541.61 96.41 L542.41 95.78 L543.21 95.15 L544.01 94.52 L544.81 93.91 L545.61 93.29 L546.41 92.69 L547.21 92.09 L548.01 91.49 L548.81 90.89 L549.61 90.30 L550.41 89.72 L551.22 89.13 L552.02 88.55 L552.82 87.98 L553.62 87.40 L554.42 86.83 L555.22 86.26 L556.02 85.71 L556.82 85.15 L557.62 84.61 L558.42 84.07 L559.22 83.54 L560.02 83.01 L560.82 82.48 L561.62 81.96 L562.42 81.43 L563.22 80.91 L564.02 80.39 L564.83 79.86 L565.63 79.33 L566.43 78.80 L567.23 78.27 L568.03 77.73 L568.83 77.19 L569.63 76.63 L570.43 76.08 L571.23 75.51 L572.03 74.94 L572.83 74.36 L573.63 73.78 L574.43 73.19 L575.23 72.60 L576.03 72.00 L576.83 71.41 L577.63 70.81 L578.44 70.21 L579.24 69.61 L580.04 69.01 L580.84 68.40 L581.64 67.80 L582.44 67.20 L583.24 66.61 L584.04 66.01 L584.84 65.42 L585.64 64.83 L586.44 64.25 L587.24 63.66 L588.04 63.08 L588.84 62.49 L589.64 61.90 L590.44 61.32 L591.24 60.73 L592.05 60.14 L592.85 59.56 L593.65 58.97 L594.45 58.39 L595.25 57.81 L596.05 57.23 L596.85 56.66 L597.65 56.09 L598.45 55.53 L599.25 54.96 L600.05 54.41 L600.85 53.86 L601.65 53.31 L602.45 52.77 L603.25 52.24 L604.05 51.70 L604.85 51.16 L605.66 50.63 L606.46 50.09 L607.26 49.56 L608.06 49.03 L608.86 48.50 L609.66 47.98 L610.46 47.46 L611.26 46.95 L612.06 46.45 L612.86 45.95 L613.66 45.46 L614.46 44.98 L615.26 44.51 L616.06 44.05 L616.86 43.60 L617.66 43.16 L618.46 42.74 L619.27 42.32 L620.07 41.92 L620.87 41.52 L621.67 41.14 L622.47 40.76 L623.27 40.38 L624.07 40.02 L624.87 39.66 L625.67 39.30 L626.47 38.95 L627.27 38.61 L628.07 38.26 L628.87 37.92 L629.67 37.59 L630.47 37.25 L631.27 36.91 L632.07 36.58 L632.88 36.24 L633.68 35.90 L634.48 35.56 L635.28 35.23 L636.08 34.89 L636.88 34.56 L637.68 34.23 L638.48 33.90 L639.28 33.57 L640.08 33.24 L640.88 32.92 L641.68 32.59 L642.48 32.27 L643.28 31.95 L644.08 31.63 L644.88 31.32 L645.68 31.00 L646.49 30.68 L647.29 30.37 L648.09 30.05 L648.89 29.74 L649.69 29.43 L650.49 29.11 L651.29 28.80 L652.09 28.49 L652.89 28.18 L653.69 27.87 L654.49 27.56 L655.29 27.26 L656.09 26.95 L656.89 26.65 L657.69 26.35 L658.49 26.04 L659.29 25.74 L660.10 25.44 L660.90 25.14 L661.70 24.83 L662.50 24.53 L663.30 24.23 L664.10 23.93 L664.90 23.63 L665.70 23.32 L666.50 23.02" fill="none" stroke="#7E2F8E" stroke-width="1.45" stroke-linejoin="round"/>
<path d="M394.30 218.40 L395.10 218.38 L395.90 218.37 L396.70 218.35 L397.50 218.34 L398.30 218.32 L399.10 218.31 L399.90 218.29 L400.70 218.28 L401.51 218.26 L402.31 218.25 L403.11 218.23 L403.91 218.22 L404.71 218.20 L405.51 218.18 L406.31 218.16 L407.11 218.14 L407.91 218.12 L408.71 218.09 L409.51 218.07 L410.31 218.04 L411.11 218.01 L411.91 217.98 L412.71 217.94 L413.51 217.89 L414.31 217.84 L415.12 217.79 L415.92 217.74 L416.72 217.67 L417.52 217.61 L418.32 217.54 L419.12 217.47 L419.92 217.39 L420.72 217.31 L421.52 217.22 L422.32 217.13 L423.12 217.03 L423.92 216.93 L424.72 216.83 L425.52 216.72 L426.32 216.61 L427.12 216.48 L427.92 216.33 L428.73 216.17 L429.53 215.98 L430.33 215.77 L431.13 215.54 L431.93 215.30 L432.73 215.04 L433.53 214.76 L434.33 214.47 L435.13 214.16 L435.93 213.84 L436.73 213.51 L437.53 213.16 L438.33 212.80 L439.13 212.44 L439.93 212.06 L440.73 211.67 L441.53 211.27 L442.34 210.87 L443.14 210.45 L443.94 209.99 L444.74 209.49 L445.54 208.96 L446.34 208.41 L447.14 207.81 L447.94 207.19 L448.74 206.54 L449.54 205.87 L450.34 205.16 L451.14 204.43 L451.94 203.68 L452.74 202.90 L453.54 202.10 L454.34 201.28 L455.14 200.44 L455.95 199.58 L456.75 198.70 L457.55 197.80 L458.35 196.89 L459.15 195.92 L459.95 194.87 L460.75 193.74 L461.55 192.54 L462.35 191.27 L463.15 189.95 L463.95 188.58 L464.75 187.17 L465.55 185.73 L466.35 184.27 L467.15 182.79 L467.95 181.30 L468.75 179.81 L469.56 178.32 L470.36 176.85 L471.16 175.41 L471.96 173.99 L472.76 172.61 L473.56 171.28 L474.36 170.00 L475.16 168.76 L475.96 167.53 L476.76 166.31 L477.56 165.11 L478.36 163.91 L479.16 162.72 L479.96 161.54 L480.76 160.37 L481.56 159.21 L482.36 158.05 L483.17 156.90 L483.97 155.76 L484.77 154.62 L485.57 153.48 L486.37 152.35 L487.17 151.21 L487.97 150.09 L488.77 148.96 L489.57 147.83 L490.37 146.70 L491.22 145.51 L492.07 144.34 L492.92 143.18 L493.77 142.03 L494.62 140.89 L495.47 139.75 L496.32 138.62 L497.18 137.49 L498.03 136.35 L498.88 135.21 L499.73 134.06 L500.58 132.89 L501.43 131.71 L502.28 130.52 L503.13 129.30 L503.98 128.06 L504.78 126.86 L505.58 125.62 L506.38 124.35 L507.18 123.05 L507.98 121.75 L508.78 120.43 L509.58 119.11 L510.39 117.80 L511.19 116.50 L511.99 115.21 L512.79 113.96 L513.59 112.74 L514.39 111.57 L515.25 110.32 L516.12 109.09 L516.98 107.87 L517.85 106.66 L518.71 105.48 L519.58 104.33 L520.44 103.21 L521.31 102.13 L522.17 101.09 L523.03 100.09 L523.85 99.19 L524.67 98.32 L525.49 97.46 L526.31 96.64 L527.13 95.84 L527.94 95.07 L528.76 94.33 L529.58 93.61 L530.40 92.93 L531.21 92.27 L532.02 91.64 L532.83 91.02 L533.64 90.42 L534.45 89.84 L535.26 89.27 L536.07 88.72 L536.88 88.17 L537.69 87.63 L538.49 87.10 L539.30 86.58 L540.11 86.06 L540.92 85.53 L541.73 85.01 L542.54 84.49 L543.35 83.96 L544.16 83.43 L544.97 82.89 L545.80 82.33 L546.63 81.77 L547.46 81.20 L548.30 80.64 L549.13 80.08 L549.96 79.52 L550.79 78.96 L551.62 78.40 L552.45 77.84 L553.28 77.28 L554.11 76.73 L554.94 76.18 L555.77 75.63 L556.61 75.09 L557.44 74.55 L558.27 74.01 L559.10 73.48 L559.93 72.96 L560.76 72.44 L561.59 71.92 L562.42 71.41 L563.27 70.91 L564.11 70.40 L564.95 69.91 L565.80 69.41 L566.64 68.92 L567.48 68.44 L568.33 67.96 L569.17 67.48 L570.01 67.01 L570.86 66.54 L571.70 66.08 L572.54 65.62 L573.39 65.16 L574.23 64.70 L575.07 64.25 L575.87 63.81 L576.67 63.38 L577.47 62.95 L578.28 62.52 L579.08 62.09 L579.88 61.66 L580.68 61.23 L581.48 60.80 L582.28 60.37 L583.08 59.94 L583.88 59.52 L584.68 59.09 L585.48 58.67 L586.28 58.25 L587.08 57.83 L587.88 57.42 L588.68 57.01 L589.48 56.60 L590.28 56.20 L591.08 55.80 L591.89 55.40 L592.69 55.01 L593.49 54.62 L594.29 54.24 L595.09 53.86 L595.89 53.48 L596.69 53.11 L597.49 52.75 L598.29 52.39 L599.09 52.04 L599.89 51.70 L600.74 51.34 L601.58 50.98 L602.43 50.63 L603.27 50.28 L604.12 49.94 L604.96 49.60 L605.81 49.26 L606.65 48.93 L607.50 48.61 L608.34 48.29 L609.19 47.97 L610.03 47.66 L610.88 47.36 L611.72 47.07 L612.57 46.78 L613.41 46.50 L614.26 46.23 L615.10 45.96 L615.91 45.71 L616.72 45.47 L617.52 45.23 L618.33 44.99 L619.14 44.75 L619.95 44.52 L620.75 44.29 L621.56 44.07 L622.37 43.85 L623.17 43.63 L623.98 43.42 L624.79 43.20 L625.60 43.00 L626.40 42.79 L627.21 42.59 L628.02 42.39 L628.83 42.20 L629.63 42.01 L630.44 41.82 L631.25 41.64 L632.05 41.46 L632.86 41.28 L633.67 41.11 L634.48 40.94 L635.28 40.78 L636.08 40.62 L636.88 40.46 L637.68 40.30 L638.48 40.15 L639.28 40.00 L640.08 39.85 L640.88 39.71 L641.68 39.56 L642.48 39.42 L643.28 39.28 L644.08 39.14 L644.88 39.01 L645.68 38.87 L646.49 38.74 L647.29 38.61 L648.09 38.48 L648.89 38.35 L649.69 38.22 L650.49 38.10 L651.29 37.97 L652.09 37.84 L652.89 37.72 L653.69 37.59 L654.49 37.47 L655.29 37.35 L656.09 37.22 L656.89 37.10 L657.69 36.97 L658.49 36.85 L659.29 36.73 L660.10 36.60 L660.90 36.47 L661.70 36.35 L662.50 36.22 L663.30 36.09 L664.10 35.96 L664.90 35.83 L665.70 35.70 L666.50 35.56" fill="none" stroke="#FFFF00" stroke-width="1.45" stroke-linejoin="round"/>
<path d="M394.30 218.40 L410.31 218.22 L426.32 215.53 L442.34 210.15 L458.35 198.68 L474.36 180.76 L490.37 157.81 L506.38 132.72 L522.39 107.62 L538.41 85.75 L554.42 89.34 L570.43 71.77 L586.44 60.30 L602.45 51.34 L618.46 45.96 L634.48 42.02 L650.49 39.87 L666.50 38.07" fill="none" stroke="#FF00FF" stroke-width="1.45" stroke-linejoin="round"/>
<polygon points="396.90,218.40 396.06,217.39 395.60,216.15 394.30,216.37 393.00,216.15 392.54,217.39 391.70,218.40 392.54,219.41 393.00,220.65 394.30,220.43 395.60,220.65 396.06,219.41" fill="#FF00FF"/>
<polygon points="412.91,218.22 412.07,217.21 411.61,215.97 410.31,216.19 409.01,215.97 408.56,217.21 407.71,218.22 408.56,219.23 409.01,220.47 410.31,220.25 411.61,220.47 412.07,219.23" fill="#FF00FF"/>
<polygon points="428.92,215.53 428.08,214.52 427.62,213.28 426.32,213.50 425.02,213.28 424.57,214.52 423.72,215.53 424.57,216.55 425.02,217.78 426.32,217.56 427.62,217.78 428.08,216.55" fill="#FF00FF"/>
<polygon points="444.94,210.15 444.09,209.14 443.64,207.90 442.34,208.13 441.04,207.90 440.58,209.14 439.74,210.15 440.58,211.17 441.04,212.41 442.34,212.18 443.64,212.41 444.09,211.17" fill="#FF00FF"/>
<polygon points="460.95,198.68 460.10,197.67 459.65,196.43 458.35,196.65 457.05,196.43 456.59,197.67 455.75,198.68 456.59,199.70 457.05,200.93 458.35,200.71 459.65,200.93 460.10,199.70" fill="#FF00FF"/>
<polygon points="476.96,180.76 476.12,179.74 475.66,178.51 474.36,178.73 473.06,178.51 472.60,179.74 471.76,180.76 472.60,181.77 473.06,183.01 474.36,182.79 475.66,183.01 476.12,181.77" fill="#FF00FF"/>
<polygon points="492.97,157.81 492.13,156.80 491.67,155.56 490.37,155.79 489.07,155.56 488.61,156.80 487.77,157.81 488.61,158.83 489.07,160.07 490.37,159.84 491.67,160.07 492.13,158.83" fill="#FF00FF"/>
<polygon points="508.98,132.72 508.14,131.70 507.68,130.47 506.38,130.69 505.08,130.47 504.63,131.70 503.78,132.72 504.63,133.73 505.08,134.97 506.38,134.75 507.68,134.97 508.14,133.73" fill="#FF00FF"/>
<polygon points="524.99,107.62 524.15,106.61 523.69,105.37 522.39,105.60 521.09,105.37 520.64,106.61 519.79,107.62 520.64,108.64 521.09,109.88 522.39,109.65 523.69,109.88 524.15,108.64" fill="#FF00FF"/>
<polygon points="541.01,85.75 540.16,84.74 539.71,83.50 538.41,83.73 537.11,83.50 536.65,84.74 535.81,85.75 536.65,86.77 537.11,88.01 538.41,87.78 539.71,88.01 540.16,86.77" fill="#FF00FF"/>
<polygon points="557.02,89.34 556.17,88.33 555.72,87.09 554.42,87.31 553.12,87.09 552.66,88.33 551.82,89.34 552.66,90.35 553.12,91.59 554.42,91.37 555.72,91.59 556.17,90.35" fill="#FF00FF"/>
<polygon points="573.03,71.77 572.19,70.76 571.73,69.52 570.43,69.75 569.13,69.52 568.67,70.76 567.83,71.77 568.67,72.79 569.13,74.03 570.43,73.80 571.73,74.03 572.19,72.79" fill="#FF00FF"/>
<polygon points="589.04,60.30 588.20,59.29 587.74,58.05 586.44,58.27 585.14,58.05 584.68,59.29 583.84,60.30 584.68,61.32 585.14,62.55 586.44,62.33 587.74,62.55 588.20,61.32" fill="#FF00FF"/>
<polygon points="605.05,51.34 604.21,50.32 603.75,49.09 602.45,49.31 601.15,49.09 600.70,50.32 599.85,51.34 600.70,52.35 601.15,53.59 602.45,53.37 603.75,53.59 604.21,52.35" fill="#FF00FF"/>
<polygon points="621.06,45.96 620.22,44.95 619.76,43.71 618.46,43.93 617.16,43.71 616.71,44.95 615.86,45.96 616.71,46.98 617.16,48.21 618.46,47.99 619.76,48.21 620.22,46.98" fill="#FF00FF"/>
<polygon points="637.08,42.02 636.23,41.00 635.78,39.77 634.48,39.99 633.18,39.77 632.72,41.00 631.88,42.02 632.72,43.03 633.18,44.27 634.48,44.05 635.78,44.27 636.23,43.03" fill="#FF00FF"/>
<polygon points="653.09,39.87 652.24,38.85 651.79,37.62 650.49,37.84 649.19,37.62 648.73,38.85 647.89,39.87 648.73,40.88 649.19,42.12 650.49,41.90 651.79,42.12 652.24,40.88" fill="#FF00FF"/>
<polygon points="669.10,38.07 668.26,37.06 667.80,35.82 666.50,36.05 665.20,35.82 664.74,37.06 663.90,38.07 664.74,39.09 665.20,40.33 666.50,40.10 667.80,40.33 668.26,39.09" fill="#FF00FF"/>
<rect x="394.30" y="3.30" width="272.20" height="215.10" fill="none" stroke="#8c8c8c" stroke-width="0.9"/>
<line x1="394.30" y1="218.40" x2="394.30" y2="215.80" stroke="#8c8c8c" stroke-width="0.7"/>
<line x1="394.30" y1="3.30" x2="394.30" y2="5.90" stroke="#8c8c8c" stroke-width="0.7"/>
<text transform="translate(394.30,228.80) scale(1,1.08)" text-anchor="middle" class="tk">0</text>
<line x1="426.32" y1="218.40" x2="426.32" y2="215.80" stroke="#8c8c8c" stroke-width="0.7"/>
<line x1="426.32" y1="3.30" x2="426.32" y2="5.90" stroke="#8c8c8c" stroke-width="0.7"/>
<text transform="translate(426.32,228.80) scale(1,1.08)" text-anchor="middle" class="tk">2</text>
<line x1="458.35" y1="218.40" x2="458.35" y2="215.80" stroke="#8c8c8c" stroke-width="0.7"/>
<line x1="458.35" y1="3.30" x2="458.35" y2="5.90" stroke="#8c8c8c" stroke-width="0.7"/>
<text transform="translate(458.35,228.80) scale(1,1.08)" text-anchor="middle" class="tk">4</text>
<line x1="490.37" y1="218.40" x2="490.37" y2="215.80" stroke="#8c8c8c" stroke-width="0.7"/>
<line x1="490.37" y1="3.30" x2="490.37" y2="5.90" stroke="#8c8c8c" stroke-width="0.7"/>
<text transform="translate(490.37,228.80) scale(1,1.08)" text-anchor="middle" class="tk">6</text>
<line x1="522.39" y1="218.40" x2="522.39" y2="215.80" stroke="#8c8c8c" stroke-width="0.7"/>
<line x1="522.39" y1="3.30" x2="522.39" y2="5.90" stroke="#8c8c8c" stroke-width="0.7"/>
<text transform="translate(522.39,228.80) scale(1,1.08)" text-anchor="middle" class="tk">8</text>
<line x1="554.42" y1="218.40" x2="554.42" y2="215.80" stroke="#8c8c8c" stroke-width="0.7"/>
<line x1="554.42" y1="3.30" x2="554.42" y2="5.90" stroke="#8c8c8c" stroke-width="0.7"/>
<text transform="translate(554.42,228.80) scale(1,1.08)" text-anchor="middle" class="tk">10</text>
<line x1="586.44" y1="218.40" x2="586.44" y2="215.80" stroke="#8c8c8c" stroke-width="0.7"/>
<line x1="586.44" y1="3.30" x2="586.44" y2="5.90" stroke="#8c8c8c" stroke-width="0.7"/>
<text transform="translate(586.44,228.80) scale(1,1.08)" text-anchor="middle" class="tk">12</text>
<line x1="618.46" y1="218.40" x2="618.46" y2="215.80" stroke="#8c8c8c" stroke-width="0.7"/>
<line x1="618.46" y1="3.30" x2="618.46" y2="5.90" stroke="#8c8c8c" stroke-width="0.7"/>
<text transform="translate(618.46,228.80) scale(1,1.08)" text-anchor="middle" class="tk">14</text>
<line x1="650.49" y1="218.40" x2="650.49" y2="215.80" stroke="#8c8c8c" stroke-width="0.7"/>
<line x1="650.49" y1="3.30" x2="650.49" y2="5.90" stroke="#8c8c8c" stroke-width="0.7"/>
<text transform="translate(650.49,228.80) scale(1,1.08)" text-anchor="middle" class="tk">16</text>
<line x1="394.30" y1="218.40" x2="396.90" y2="218.40" stroke="#8c8c8c" stroke-width="0.7"/>
<line x1="666.50" y1="218.40" x2="663.90" y2="218.40" stroke="#8c8c8c" stroke-width="0.7"/>
<text transform="translate(391.40,221.30) scale(1,1.08)" text-anchor="end" class="tk">0</text>
<line x1="394.30" y1="182.55" x2="396.90" y2="182.55" stroke="#8c8c8c" stroke-width="0.7"/>
<line x1="666.50" y1="182.55" x2="663.90" y2="182.55" stroke="#8c8c8c" stroke-width="0.7"/>
<text transform="translate(391.40,185.45) scale(1,1.08)" text-anchor="end" class="tk">10</text>
<line x1="394.30" y1="146.70" x2="396.90" y2="146.70" stroke="#8c8c8c" stroke-width="0.7"/>
<line x1="666.50" y1="146.70" x2="663.90" y2="146.70" stroke="#8c8c8c" stroke-width="0.7"/>
<text transform="translate(391.40,149.60) scale(1,1.08)" text-anchor="end" class="tk">20</text>
<line x1="394.30" y1="110.85" x2="396.90" y2="110.85" stroke="#8c8c8c" stroke-width="0.7"/>
<line x1="666.50" y1="110.85" x2="663.90" y2="110.85" stroke="#8c8c8c" stroke-width="0.7"/>
<text transform="translate(391.40,113.75) scale(1,1.08)" text-anchor="end" class="tk">30</text>
<line x1="394.30" y1="75.00" x2="396.90" y2="75.00" stroke="#8c8c8c" stroke-width="0.7"/>
<line x1="666.50" y1="75.00" x2="663.90" y2="75.00" stroke="#8c8c8c" stroke-width="0.7"/>
<text transform="translate(391.40,77.90) scale(1,1.08)" text-anchor="end" class="tk">40</text>
<line x1="394.30" y1="39.15" x2="396.90" y2="39.15" stroke="#8c8c8c" stroke-width="0.7"/>
<line x1="666.50" y1="39.15" x2="663.90" y2="39.15" stroke="#8c8c8c" stroke-width="0.7"/>
<text transform="translate(391.40,42.05) scale(1,1.08)" text-anchor="end" class="tk">50</text>
<line x1="394.30" y1="3.30" x2="396.90" y2="3.30" stroke="#8c8c8c" stroke-width="0.7"/>
<line x1="666.50" y1="3.30" x2="663.90" y2="3.30" stroke="#8c8c8c" stroke-width="0.7"/>
<text transform="translate(391.40,6.20) scale(1,1.08)" text-anchor="end" class="tk">60</text>
<text transform="translate(530.50,239.60) scale(1,1.1)" text-anchor="middle" class="lb">Time</text>
<rect x="584.50" y="125.20" width="82.00" height="93.20" fill="#fff" stroke="#8c8c8c" stroke-width="0.9"/>
<line x1="587.60" y1="131.00" x2="592.80" y2="131.00" stroke="#000" stroke-width="1.45"/>
<line x1="607.70" y1="131.00" x2="612.90" y2="131.00" stroke="#000" stroke-width="1.45"/>
<polygon points="603.05,131.00 602.14,129.91 601.65,128.58 600.25,128.82 598.85,128.58 598.36,129.91 597.45,131.00 598.36,132.09 598.85,133.42 600.25,133.18 601.65,133.42 602.14,132.09" fill="#000"/>
<text x="614.90" y="134.20" class="lg">Detected Fault</text>
<line x1="587.60" y1="140.06" x2="612.90" y2="140.06" stroke="#0000FF" stroke-width="1.45"/>
<text x="614.90" y="143.26" class="lg">Model No-1</text>
<line x1="587.60" y1="149.12" x2="612.90" y2="149.12" stroke="#00FFFF" stroke-width="1.45"/>
<text x="614.90" y="152.32" class="lg">Model No-2</text>
<line x1="587.60" y1="158.18" x2="612.90" y2="158.18" stroke="#FF0000" stroke-width="1.45"/>
<text x="614.90" y="161.38" class="lg">Model No-3</text>
<line x1="587.60" y1="167.24" x2="612.90" y2="167.24" stroke="#00FF00" stroke-width="1.45"/>
<text x="614.90" y="170.44" class="lg">Model No-4</text>
<line x1="587.60" y1="176.30" x2="612.90" y2="176.30" stroke="#A2142F" stroke-width="1.45"/>
<text x="614.90" y="179.50" class="lg">Model No-5</text>
<line x1="587.60" y1="185.36" x2="612.90" y2="185.36" stroke="#77AC30" stroke-width="1.45"/>
<text x="614.90" y="188.56" class="lg">Model No-6</text>
<line x1="587.60" y1="194.42" x2="612.90" y2="194.42" stroke="#7E2F8E" stroke-width="1.45"/>
<text x="614.90" y="197.62" class="lg">Model No-7</text>
<line x1="587.60" y1="203.48" x2="612.90" y2="203.48" stroke="#FFFF00" stroke-width="1.45"/>
<text x="614.90" y="206.68" class="lg">Model No-8</text>
<line x1="587.60" y1="212.54" x2="612.90" y2="212.54" stroke="#FF00FF" stroke-width="1.45"/>
<polygon points="602.85,212.54 602.01,211.53 601.55,210.29 600.25,210.51 598.95,210.29 598.49,211.53 597.65,212.54 598.49,213.55 598.95,214.79 600.25,214.57 601.55,214.79 602.01,213.55" fill="#FF00FF"/>
<text x="614.90" y="215.74" class="lg">Proposed Model</text>
<text class="yl" transform="translate(378.9,110.3) rotate(-90)" text-anchor="middle">Cummulative Number of Corrected Fault</text>
</svg>
<div class="cap" style="left:0.3px;top:255px;word-spacing:1.6px;"><b>(a)</b><span style="word-spacing:0">&nbsp;</span>Comparison of actual cumulative detected faults and predicted</div>
<div class="cap" style="left:0px;top:271px;">faults</div>
<div class="cap" style="left:348.2px;top:255px;word-spacing:1.7px;"><b>(b)</b><span style="word-spacing:0">&nbsp;</span>Comparison of actual cumulative corrected faults and predicted</div>
<div class="cap" style="left:348.4px;top:271px;">faults</div>
</body></html>
